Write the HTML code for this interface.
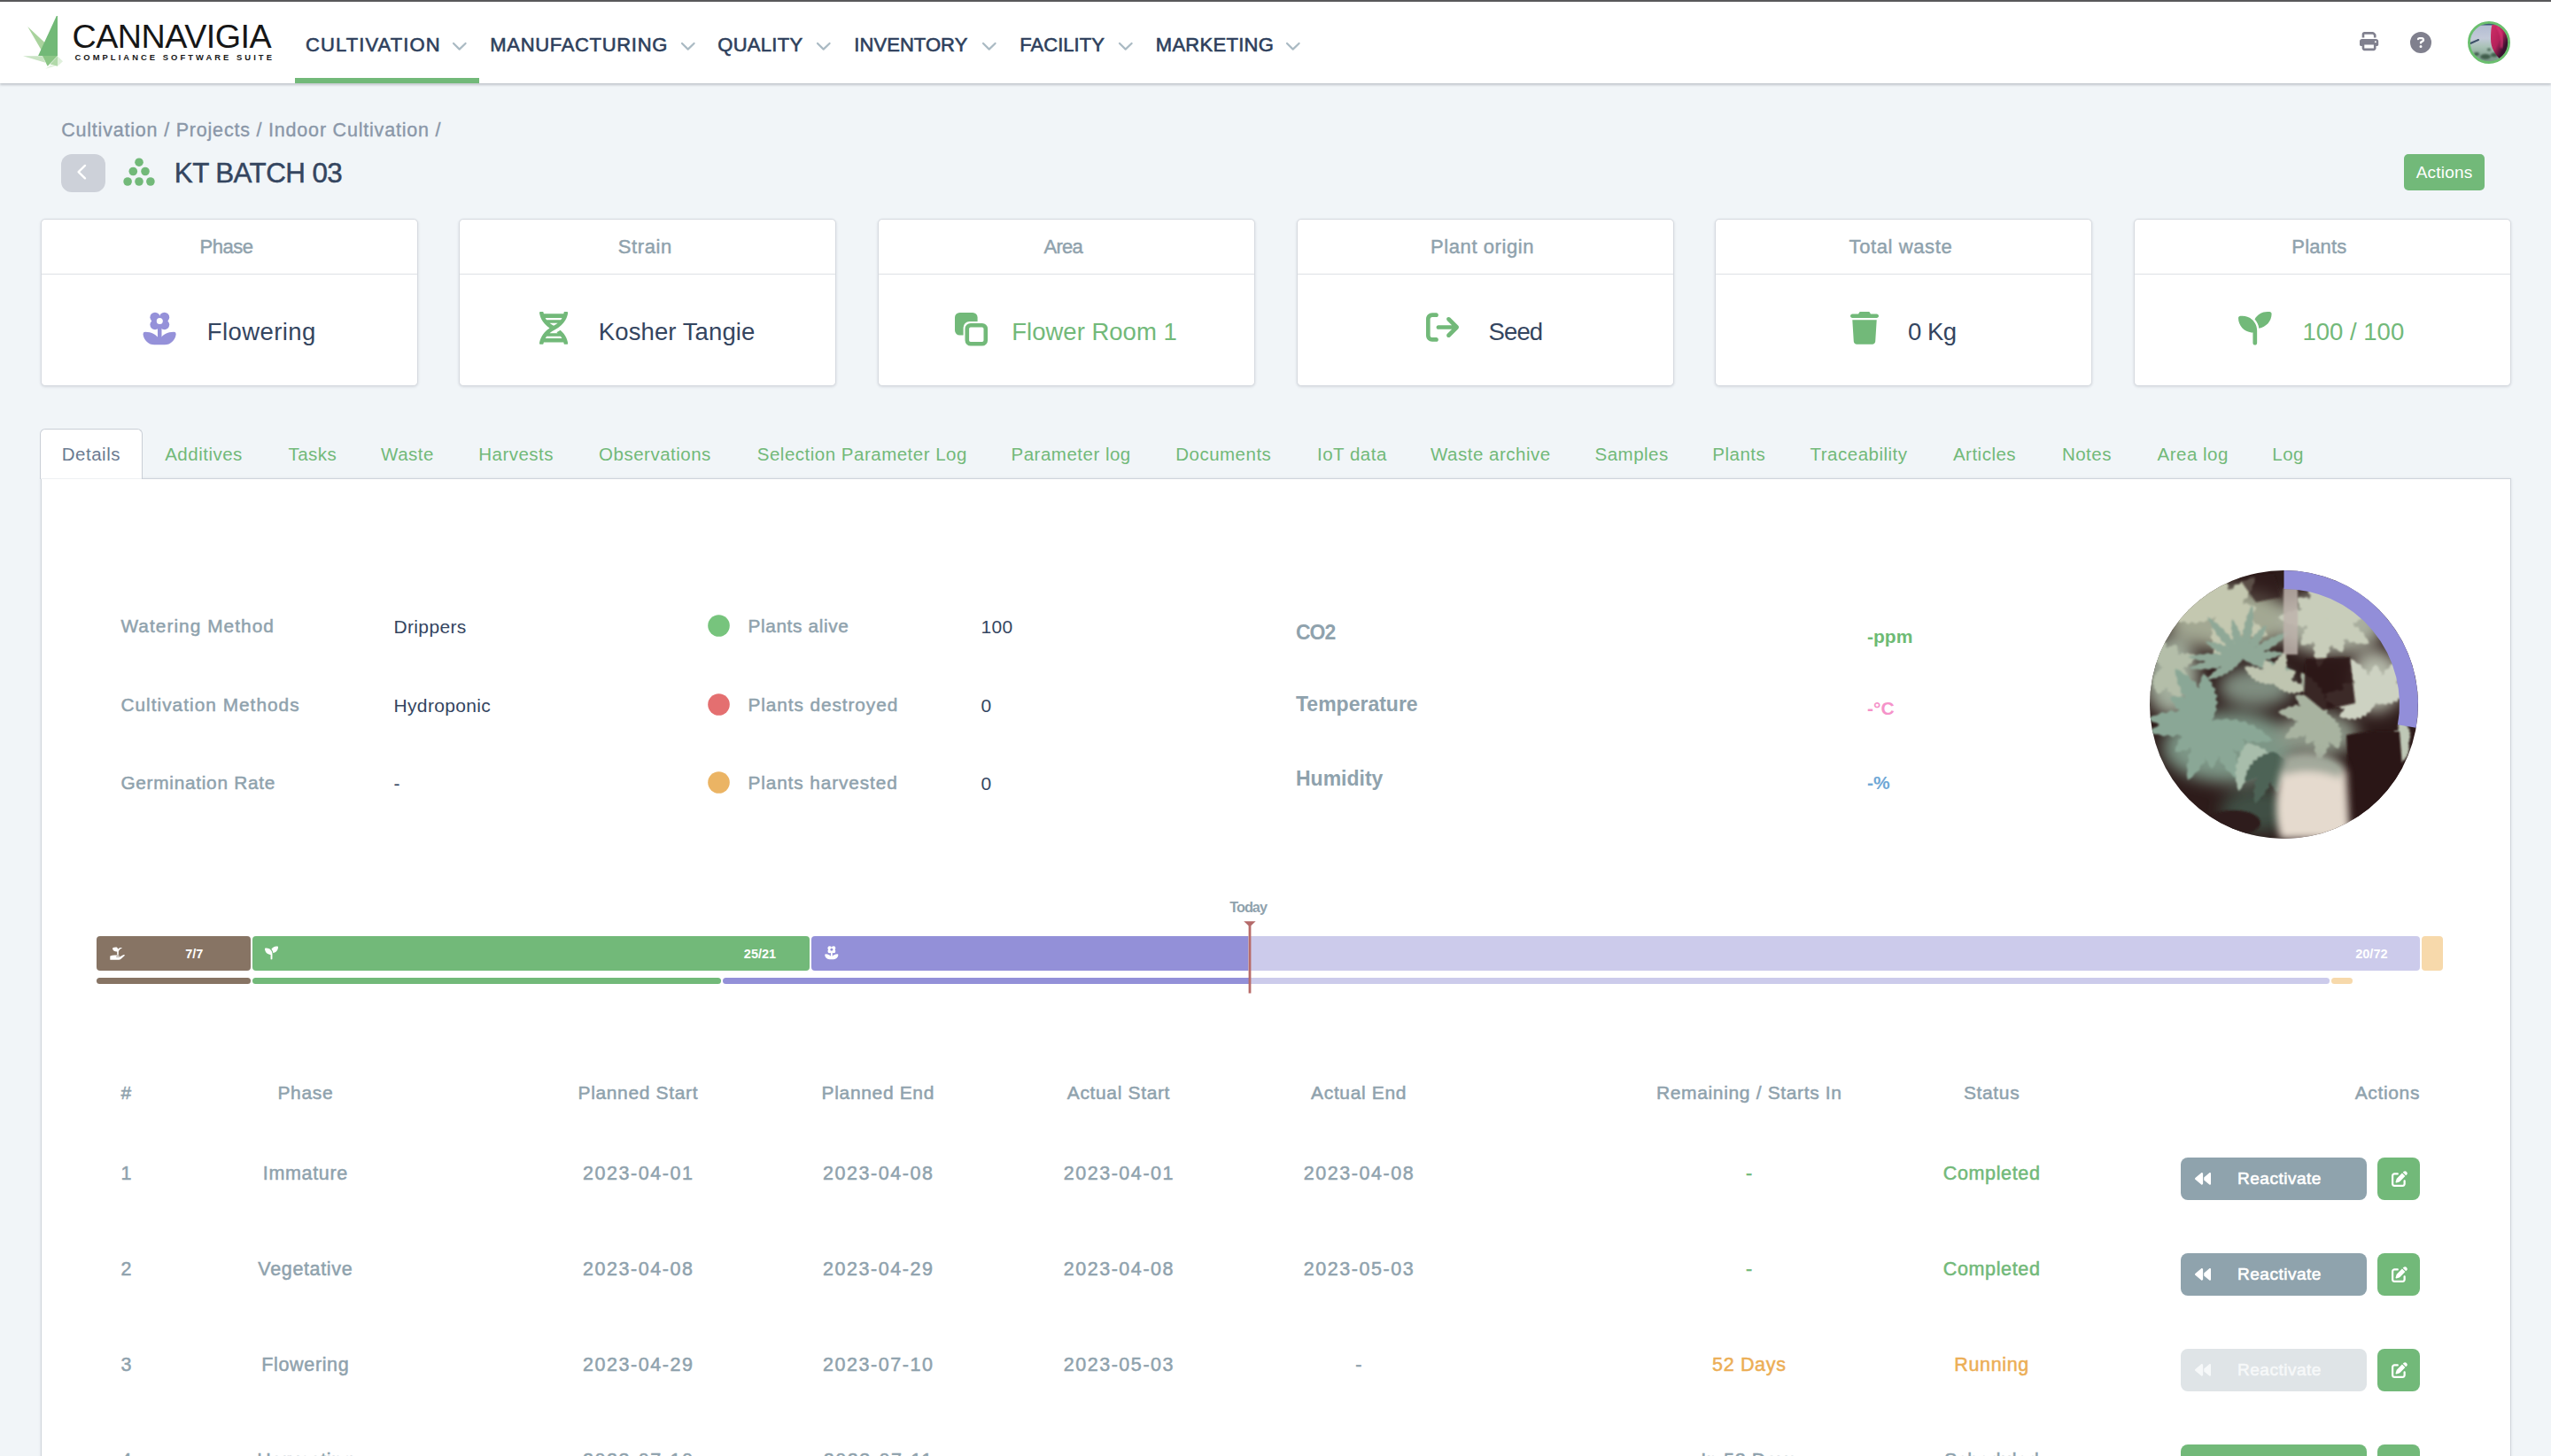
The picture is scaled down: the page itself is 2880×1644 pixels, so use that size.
<!DOCTYPE html>
<html lang="en"><head><meta charset="utf-8"><title>KT BATCH 03 | Cannavigia</title>
<style>
html,body{margin:0;padding:0;}
body{width:2880px;height:1644px;overflow:hidden;position:relative;background:#f1f5f8;font-family:"Liberation Sans", Arial, sans-serif;}
.t{position:absolute;white-space:nowrap;line-height:1;}
.r{position:absolute;}
svg.r{overflow:visible;}
@media (max-width:2000px){body{zoom:0.5;}}
</style></head><body>
<div class="r" style="left:0.00px;top:0.00px;width:2880.00px;height:94.00px;background:#fff;box-shadow:0 1.5px 2.5px rgba(40,50,62,.24);"></div>
<div class="r" style="left:0.00px;top:0.00px;width:2880.00px;height:2.00px;background:#58585a;"></div>
<svg class="r" style="left:20.00px;top:14.00px;" width="56" height="68" viewBox="0 0 56 68">
<polygon points="11.2,16.1 31.5,35 27.5,44" fill="#a9d39d"/>
<polygon points="43.8,4.1 45,4.1 45,49 23.1,49" fill="#72b977"/>
<polygon points="6,49.3 27.9,49.3 31.3,56.8" fill="#c9e3c3"/>
<polygon points="27.9,49 45,49 33.7,60.8" fill="#8cc686"/>
<polygon points="45,49.5 51,55.3 45,60.8" fill="#e0f0dc"/>
<polygon points="45,49.5 45,60.8 36.5,58.6" fill="#b1d9a9"/>
<polygon points="31.3,63.7 43.5,60.3 37,59.8" fill="#e2f1de"/>
</svg>
<div class="t" style="top:22.89px;font-size:37.7px;color:#161616;letter-spacing:-0.5px;left:81.50px;">CANNAVIGIA</div>
<div class="t" style="top:59.84px;font-size:9.4px;color:#161616;font-weight:700;letter-spacing:3.06px;left:84.50px;">COMPLIANCE SOFTWARE SUITE</div>
<div class="t" style="top:39.88px;font-size:22px;color:#2e3f5c;-webkit-text-stroke:0.6px #2e3f5c;letter-spacing:1.09px;left:345.10px;">CULTIVATION</div>
<svg class="r" style="left:511.00px;top:45.00px;" width="16" height="14" viewBox="0 0 16 14"><polyline points="1,4 7.7,10.6 14.6,4" fill="none" stroke="#aabac3" stroke-width="2.2" stroke-linecap="round" stroke-linejoin="round"/></svg>
<div class="t" style="top:39.88px;font-size:22px;color:#2e3f5c;-webkit-text-stroke:0.6px #2e3f5c;letter-spacing:0.68px;left:553.30px;">MANUFACTURING</div>
<svg class="r" style="left:768.60px;top:45.00px;" width="16" height="14" viewBox="0 0 16 14"><polyline points="1,4 7.7,10.6 14.6,4" fill="none" stroke="#aabac3" stroke-width="2.2" stroke-linecap="round" stroke-linejoin="round"/></svg>
<div class="t" style="top:39.88px;font-size:22px;color:#2e3f5c;-webkit-text-stroke:0.6px #2e3f5c;letter-spacing:0.28px;left:810.30px;">QUALITY</div>
<svg class="r" style="left:922.00px;top:45.00px;" width="16" height="14" viewBox="0 0 16 14"><polyline points="1,4 7.7,10.6 14.6,4" fill="none" stroke="#aabac3" stroke-width="2.2" stroke-linecap="round" stroke-linejoin="round"/></svg>
<div class="t" style="top:39.88px;font-size:22px;color:#2e3f5c;-webkit-text-stroke:0.6px #2e3f5c;letter-spacing:0.06px;left:964.30px;">INVENTORY</div>
<svg class="r" style="left:1108.60px;top:45.00px;" width="16" height="14" viewBox="0 0 16 14"><polyline points="1,4 7.7,10.6 14.6,4" fill="none" stroke="#aabac3" stroke-width="2.2" stroke-linecap="round" stroke-linejoin="round"/></svg>
<div class="t" style="top:39.88px;font-size:22px;color:#2e3f5c;-webkit-text-stroke:0.6px #2e3f5c;letter-spacing:0.03px;left:1151.30px;">FACILITY</div>
<svg class="r" style="left:1262.50px;top:45.00px;" width="16" height="14" viewBox="0 0 16 14"><polyline points="1,4 7.7,10.6 14.6,4" fill="none" stroke="#aabac3" stroke-width="2.2" stroke-linecap="round" stroke-linejoin="round"/></svg>
<div class="t" style="top:39.88px;font-size:22px;color:#2e3f5c;-webkit-text-stroke:0.6px #2e3f5c;letter-spacing:0.28px;left:1304.80px;">MARKETING</div>
<svg class="r" style="left:1452.00px;top:45.00px;" width="16" height="14" viewBox="0 0 16 14"><polyline points="1,4 7.7,10.6 14.6,4" fill="none" stroke="#aabac3" stroke-width="2.2" stroke-linecap="round" stroke-linejoin="round"/></svg>
<div class="r" style="left:333.00px;top:88.00px;width:208.00px;height:6.00px;background:#72b979;"></div>
<svg class="r" style="left:2664.00px;top:35.70px;" width="21.2" height="21.2" viewBox="0 0 512 512"><path d="M128 0C92.7 0 64 28.7 64 64v96h64V64H354.7L384 93.3V160h64V93.3c0-17-6.7-33.3-18.7-45.3L400 18.7C388 6.7 371.7 0 354.7 0H128zM384 352v32 64H128V384 368 352H384zm64 32h32c17.7 0 32-14.3 32-32V256c0-35.3-28.7-64-64-64H64c-35.3 0-64 28.7-64 64v96c0 17.7 14.3 32 32 32H64v64c0 35.3 28.7 64 64 64H384c35.3 0 64-28.7 64-64V384zM432 248a24 24 0 1 1 0 48 24 24 0 1 1 0-48z" fill="#80808e"/></svg>
<svg class="r" style="left:2721.00px;top:36.00px;" width="24" height="24" viewBox="0 0 512 512"><path d="M256 512A256 256 0 1 0 256 0a256 256 0 1 0 0 512zM169.8 165.3c7.9-22.3 29.1-37.3 52.8-37.3h58.3c34.9 0 63.1 28.3 63.1 63.1c0 22.6-12.1 43.5-31.7 54.8L280 264.4c-.2 13-10.9 23.6-24 23.6c-13.3 0-24-10.7-24-24V250.5c0-8.6 4.6-16.5 12.1-20.8l44.3-25.4c4.7-2.7 7.6-7.7 7.6-13.1c0-8.4-6.8-15.1-15.1-15.1H222.6c-3.4 0-6.4 2.1-7.5 5.3l-.4 1.2c-4.4 12.5-18.2 19-30.6 14.6s-19-18.2-14.6-30.6l.4-1.2zM224 352a32 32 0 1 1 64 0 32 32 0 1 1 -64 0z" fill="#80808e"/></svg>
<svg class="r" style="left:2786.00px;top:24.00px;" width="48" height="48" viewBox="0 0 48 48">
<defs><clipPath id="av"><circle cx="24" cy="24" r="22"/></clipPath>
<linearGradient id="avg" x1="0" y1="0" x2="0" y2="1"><stop offset="0" stop-color="#aeb8d0"/><stop offset=".4" stop-color="#c3cad9"/><stop offset=".6" stop-color="#a9c2b6"/><stop offset="1" stop-color="#6f8f80"/></linearGradient>
<linearGradient id="avr" x1="0" y1="0" x2="1" y2="1"><stop offset="0" stop-color="#d02f66"/><stop offset=".45" stop-color="#b3215a"/><stop offset=".7" stop-color="#3b1230"/><stop offset="1" stop-color="#2a0f26"/></linearGradient>
<filter id="avb"><feGaussianBlur stdDeviation="1.2"/></filter></defs>
<g clip-path="url(#av)">
<rect width="48" height="48" fill="url(#avg)"/>
<rect x="0" y="0" width="48" height="4.5" fill="#3d5577"/>
<g filter="url(#avb)" fill="#3f5d4c">
<ellipse cx="20" cy="40" rx="6" ry="3"/><ellipse cx="30" cy="38" rx="4" ry="2.5"/><ellipse cx="10" cy="37" rx="3" ry="2"/><ellipse cx="24" cy="32" rx="2" ry="1.5"/>
</g>
<path d="M3 25 L12 21" stroke="#3d5168" stroke-width="2" stroke-linecap="round"/>
<path d="M27.5 4 C37 4 46 12 46 24 C46 34 42 40 38 44 C31 38 26 30 26 20 C26 12 26.5 7 27.5 4Z" fill="url(#avr)"/>
<path d="M33 6 C38 12 40 20 38 30" stroke="#e0397a" stroke-width="2.5" fill="none" opacity=".8" filter="url(#avb)"/>
</g>
<circle cx="24" cy="24" r="22.6" fill="none" stroke="#6abf6e" stroke-width="2.8"/>
</svg>
<div class="t" style="top:137.00px;font-size:21.5px;color:#8a97a8;-webkit-text-stroke:0.35px #8a97a8;letter-spacing:0.8px;left:69.20px;">Cultivation / Projects / Indoor Cultivation /</div>
<div class="r" style="left:69.20px;top:174.00px;width:49.40px;height:43.00px;background:#cdd1d9;border-radius:12px;"></div>
<svg class="r" style="left:69.20px;top:174.00px;" width="50" height="43" viewBox="0 0 50 43"><polyline points="27,12.9 19.6,20.1 27,27.3" fill="none" stroke="#fff" stroke-width="2.4" stroke-linecap="round" stroke-linejoin="round"/></svg>
<svg class="r" style="left:0.00px;top:0.00px;width:1px;height:1px" width="1" height="1" viewBox="0 0 1 1"><circle cx="157" cy="183.2" r="4.8" fill="#72b979"/><circle cx="150.3" cy="193.5" r="4.8" fill="#72b979"/><circle cx="164" cy="193.5" r="4.8" fill="#72b979"/><circle cx="144.1" cy="205" r="4.8" fill="#72b979"/><circle cx="157" cy="205" r="4.8" fill="#72b979"/><circle cx="169.9" cy="205" r="4.8" fill="#72b979"/></svg>
<div class="t" style="top:179.72px;font-size:31.4px;color:#34455f;-webkit-text-stroke:0.45px #34455f;letter-spacing:-0.6px;left:196.80px;">KT BATCH 03</div>
<div class="r" style="left:2714.00px;top:174.00px;width:91.00px;height:41.00px;background:#72b979;border-radius:5px;"></div>
<div class="t" style="top:184.92px;font-size:19px;color:#fff;letter-spacing:0.2px;left:2359.50px;width:800px;text-align:center;text-indent:0.2px;">Actions</div>
<div class="r" style="left:46.00px;top:247.00px;width:426.00px;height:188.60px;background:#fff;border:1px solid #d6dae0;box-sizing:border-box;border-radius:5px;box-shadow:0 1px 3px rgba(40,50,70,.14);"></div>
<div class="r" style="left:47.00px;top:309.00px;width:424.00px;height:1.20px;background:#dde1e5;"></div>
<div class="t" style="top:267.78px;font-size:22px;color:#8fa2ad;-webkit-text-stroke:0.45px #8fa2ad;letter-spacing:-0.45px;left:-144.20px;width:800px;text-align:center;text-indent:-0.45px;">Phase</div>
<div class="r" style="left:518.30px;top:247.00px;width:426.00px;height:188.60px;background:#fff;border:1px solid #d6dae0;box-sizing:border-box;border-radius:5px;box-shadow:0 1px 3px rgba(40,50,70,.14);"></div>
<div class="r" style="left:519.30px;top:309.00px;width:424.00px;height:1.20px;background:#dde1e5;"></div>
<div class="t" style="top:267.78px;font-size:22px;color:#8fa2ad;-webkit-text-stroke:0.45px #8fa2ad;letter-spacing:0.61px;left:328.10px;width:800px;text-align:center;text-indent:0.61px;">Strain</div>
<div class="r" style="left:990.80px;top:247.00px;width:426.00px;height:188.60px;background:#fff;border:1px solid #d6dae0;box-sizing:border-box;border-radius:5px;box-shadow:0 1px 3px rgba(40,50,70,.14);"></div>
<div class="r" style="left:991.80px;top:309.00px;width:424.00px;height:1.20px;background:#dde1e5;"></div>
<div class="t" style="top:267.78px;font-size:22px;color:#8fa2ad;-webkit-text-stroke:0.45px #8fa2ad;letter-spacing:-0.75px;left:800.60px;width:800px;text-align:center;text-indent:-0.75px;">Area</div>
<div class="r" style="left:1463.50px;top:247.00px;width:426.00px;height:188.60px;background:#fff;border:1px solid #d6dae0;box-sizing:border-box;border-radius:5px;box-shadow:0 1px 3px rgba(40,50,70,.14);"></div>
<div class="r" style="left:1464.50px;top:309.00px;width:424.00px;height:1.20px;background:#dde1e5;"></div>
<div class="t" style="top:267.78px;font-size:22px;color:#8fa2ad;-webkit-text-stroke:0.45px #8fa2ad;letter-spacing:0.59px;left:1273.30px;width:800px;text-align:center;text-indent:0.59px;">Plant origin</div>
<div class="r" style="left:1935.80px;top:247.00px;width:426.00px;height:188.60px;background:#fff;border:1px solid #d6dae0;box-sizing:border-box;border-radius:5px;box-shadow:0 1px 3px rgba(40,50,70,.14);"></div>
<div class="r" style="left:1936.80px;top:309.00px;width:424.00px;height:1.20px;background:#dde1e5;"></div>
<div class="t" style="top:267.78px;font-size:22px;color:#8fa2ad;-webkit-text-stroke:0.45px #8fa2ad;letter-spacing:0.6px;left:1745.60px;width:800px;text-align:center;text-indent:0.6px;">Total waste</div>
<div class="r" style="left:2408.50px;top:247.00px;width:426.00px;height:188.60px;background:#fff;border:1px solid #d6dae0;box-sizing:border-box;border-radius:5px;box-shadow:0 1px 3px rgba(40,50,70,.14);"></div>
<div class="r" style="left:2409.50px;top:309.00px;width:424.00px;height:1.20px;background:#dde1e5;"></div>
<div class="t" style="top:267.78px;font-size:22px;color:#8fa2ad;-webkit-text-stroke:0.45px #8fa2ad;letter-spacing:0.15000000000000002px;left:2218.30px;width:800px;text-align:center;text-indent:0.15000000000000002px;">Plants</div>
<svg class="r" style="left:161.20px;top:351.50px;" width="38" height="38" viewBox="0 0 38 38"><g fill="#9591d9">
<circle cx="14" cy="6.3" r="5.6"/><circle cx="24.6" cy="6.3" r="5.6"/>
<circle cx="14" cy="14.6" r="5.6"/><circle cx="24.6" cy="14.6" r="5.6"/>
<rect x="13" y="5" width="12.6" height="12.5"/>
<rect x="17" y="16" width="4.5" height="17"/>
<path d="M0.5 25.2Q0.5 22.8 3 22.8C10 22.8 16 26 19.1 31.5C22.2 26 28.2 22.8 35.2 22.8Q37.7 22.8 37.7 25.2C37 32 31.5 37.3 25 37.3H13.2C6.7 37.3 1.2 32 0.5 25.2Z"/>
</g><circle cx="19.3" cy="10.45" r="3.5" fill="#fff"/></svg>
<svg class="r" style="left:609.00px;top:351.90px;" width="32.2" height="36.9" viewBox="0 0 448 512"><path d="M.1 494.1c-1.1 9.5 6.3 17.8 15.9 17.8l32.3.1c8.1 0 14.9-5.9 16-13.9.7-4.9 1.8-11.1 3.4-18.1H380c1.6 6.9 2.7 13.1 3.4 18.1 1.1 8 7.9 14 16 13.9l32.3-.1c9.6 0 17.1-8.3 15.9-17.8-4.6-37.9-25.6-129-118.9-207.7-17.6 12.4-37.1 24.2-58.5 35.4 6.2 4.6 11.4 9.4 17 14.2H159.7c21.3-18.1 47-35.6 78.7-51.4C410.5 199.1 442.1 65.8 447.9 17.9 449 8.4 441.6.1 432 .1L399.6 0c-8.1 0-14.9 5.9-16 13.9-.7 4.9-1.8 11.1-3.4 18.1H67.8c-1.6-7-2.7-13.1-3.4-18.1-1.1-8-7.9-14-16-13.9L16.1.1C6.5.1-1 8.4.1 17.9 5.3 60.8 31.4 171.8 160 256 31.5 340.2 5.3 451.2.1 494.1zM224 219.6c-25.1-13.7-46.4-28.4-64.3-43.6h128.5c-17.8 15.2-39.1 30-64.2 43.6zM355.1 96c-5.8 10.4-12.8 21.1-21 32H114c-8.3-10.9-15.3-21.6-21-32h262.1zM92.9 416c5.8-10.4 12.8-21.1 21-32h219.4c8.3 10.9 15.4 21.6 21.2 32H92.9z" fill="#72b979"/></svg>
<svg class="r" style="left:1077.90px;top:353.20px;" width="38" height="38" viewBox="0 0 38 38">
<rect x="0" y="0" width="25.6" height="25.6" rx="5.5" fill="#72b979"/>
<rect x="9.6" y="10" width="29" height="29" rx="7" fill="#fff"/>
<rect x="13.8" y="14.2" width="21" height="21" rx="4" fill="none" stroke="#72b979" stroke-width="4.6"/>
</svg>
<svg class="r" style="left:1610.00px;top:351.10px;" width="37" height="37" viewBox="0 0 512 512"><path d="M502.6 278.6c12.5-12.5 12.5-32.8 0-45.3l-128-128c-12.5-12.5-32.8-12.5-45.3 0s-12.5 32.8 0 45.3L402.7 224 192 224c-17.7 0-32 14.3-32 32s14.3 32 32 32l210.7 0-73.4 73.4c-12.5 12.5-12.5 32.8 0 45.3s32.8 12.5 45.3 0l128-128zM160 96c17.7 0 32-14.3 32-32s-14.3-32-32-32L96 32C43 32 0 75 0 128L0 384c0 53 43 96 96 96l64 0c17.7 0 32-14.3 32-32s-14.3-32-32-32l-64 0c-17.7 0-32-14.3-32-32l0-256c0-17.7 14.3-32 32-32l64 0z" fill="#72b979"/></svg>
<svg class="r" style="left:2089.10px;top:352.00px;" width="32" height="36.8" viewBox="0 0 448 512"><path d="M135.2 17.7L128 32H32C14.3 32 0 46.3 0 64S14.3 96 32 96H416c17.7 0 32-14.3 32-32s-14.3-32-32-32H320l-7.2-14.3C307.4 6.8 296.3 0 284.2 0H163.8c-12.1 0-23.2 6.8-28.6 17.7zM416 128H32L53.2 467c1.6 25.3 22.6 45 47.9 45H346.9c25.3 0 46.3-19.7 47.9-45L416 128z" fill="#72b979"/></svg>
<svg class="r" style="left:2527.20px;top:351.90px;" width="37.6" height="37.6" viewBox="0 0 512 512"><path d="M512 32c0 113.6-84.6 207.5-194.2 222c-7.1-53.4-30.6-101.6-65.3-139.3C290.8 46.3 364 0 448 0h32c17.7 0 32 14.3 32 32zM0 96C0 78.3 14.3 64 32 64H64c123.7 0 224 100.3 224 224v32V480c0 17.7-14.3 32-32 32s-32-14.3-32-32V320C100.3 320 0 219.7 0 96z" fill="#72b979"/></svg>
<div class="t" style="top:361.02px;font-size:27.5px;color:#34455f;letter-spacing:0.4px;left:233.80px;">Flowering</div>
<div class="t" style="top:361.02px;font-size:27.5px;color:#34455f;letter-spacing:0.1px;left:675.80px;">Kosher Tangie</div>
<div class="t" style="top:361.02px;font-size:27.5px;color:#72b979;left:1142.30px;">Flower Room 1</div>
<div class="t" style="top:361.02px;font-size:27.5px;color:#34455f;letter-spacing:-0.9px;left:1680.60px;">Seed</div>
<div class="t" style="top:361.02px;font-size:27.5px;color:#34455f;letter-spacing:-0.5px;left:2154.00px;">0 Kg</div>
<div class="t" style="top:361.02px;font-size:27.5px;color:#72b979;left:2599.50px;">100 / 100</div>
<div class="r" style="left:45.50px;top:540.00px;width:2789.00px;height:1200.00px;background:#fff;border:1px solid #cfd4db;box-sizing:border-box;box-shadow:0 0 3px rgba(40,50,70,.10);"></div>
<div class="r" style="left:45.40px;top:484.40px;width:115.20px;height:57.00px;background:#fff;border:1px solid #c9ced6;border-bottom:none;box-sizing:border-box;border-radius:6px 6px 0 0;"></div>
<div class="r" style="left:46.40px;top:540.00px;width:113.20px;height:1.00px;background:#eef0f3;"></div>
<div class="t" style="top:502.95px;font-size:20.5px;color:#6b7b91;letter-spacing:0.5px;left:69.80px;">Details</div>
<div class="t" style="top:502.95px;font-size:20.5px;color:#72b979;letter-spacing:0.5px;left:186.20px;">Additives</div>
<div class="t" style="top:502.95px;font-size:20.5px;color:#72b979;letter-spacing:0.5px;left:325.40px;">Tasks</div>
<div class="t" style="top:502.95px;font-size:20.5px;color:#72b979;letter-spacing:0.5px;left:430.10px;">Waste</div>
<div class="t" style="top:502.95px;font-size:20.5px;color:#72b979;letter-spacing:0.5px;left:540.20px;">Harvests</div>
<div class="t" style="top:502.95px;font-size:20.5px;color:#72b979;letter-spacing:0.5px;left:676.10px;">Observations</div>
<div class="t" style="top:502.95px;font-size:20.5px;color:#72b979;letter-spacing:0.5px;left:854.80px;">Selection Parameter Log</div>
<div class="t" style="top:502.95px;font-size:20.5px;color:#72b979;letter-spacing:0.5px;left:1141.50px;">Parameter log</div>
<div class="t" style="top:502.95px;font-size:20.5px;color:#72b979;letter-spacing:0.5px;left:1327.20px;">Documents</div>
<div class="t" style="top:502.95px;font-size:20.5px;color:#72b979;letter-spacing:0.5px;left:1487.00px;">IoT data</div>
<div class="t" style="top:502.95px;font-size:20.5px;color:#72b979;letter-spacing:0.5px;left:1615.00px;">Waste archive</div>
<div class="t" style="top:502.95px;font-size:20.5px;color:#72b979;letter-spacing:0.5px;left:1800.50px;">Samples</div>
<div class="t" style="top:502.95px;font-size:20.5px;color:#72b979;letter-spacing:0.5px;left:1933.30px;">Plants</div>
<div class="t" style="top:502.95px;font-size:20.5px;color:#72b979;letter-spacing:0.5px;left:2043.50px;">Traceability</div>
<div class="t" style="top:502.95px;font-size:20.5px;color:#72b979;letter-spacing:0.5px;left:2204.90px;">Articles</div>
<div class="t" style="top:502.95px;font-size:20.5px;color:#72b979;letter-spacing:0.5px;left:2327.90px;">Notes</div>
<div class="t" style="top:502.95px;font-size:20.5px;color:#72b979;letter-spacing:0.5px;left:2435.50px;">Area log</div>
<div class="t" style="top:502.95px;font-size:20.5px;color:#72b979;letter-spacing:0.5px;left:2565.30px;">Log</div>
<div class="t" style="top:697.39px;font-size:20.8px;color:#8fa2ad;-webkit-text-stroke:0.5px #8fa2ad;letter-spacing:1.06px;left:136.40px;">Watering Method</div>
<div class="t" style="top:697.22px;font-size:21px;color:#34455f;letter-spacing:0.35px;left:444.50px;">Drippers</div>
<div class="t" style="top:785.99px;font-size:20.8px;color:#8fa2ad;-webkit-text-stroke:0.5px #8fa2ad;letter-spacing:1.03px;left:136.40px;">Cultivation Methods</div>
<div class="t" style="top:785.82px;font-size:21px;color:#34455f;letter-spacing:0.35px;left:444.50px;">Hydroponic</div>
<div class="t" style="top:874.39px;font-size:20.8px;color:#8fa2ad;-webkit-text-stroke:0.5px #8fa2ad;letter-spacing:0.73px;left:136.40px;">Germination Rate</div>
<div class="t" style="top:874.22px;font-size:21px;color:#34455f;letter-spacing:0.35px;left:444.50px;">-</div>
<svg class="r" style="left:798.50px;top:694.20px;" width="25" height="25" viewBox="0 0 25 25"><circle cx="12.5" cy="12.5" r="12.3" fill="#77c47d"/></svg>
<div class="t" style="top:697.39px;font-size:20.8px;color:#8fa2ad;-webkit-text-stroke:0.5px #8fa2ad;letter-spacing:0.65px;left:844.40px;">Plants alive</div>
<div class="t" style="top:697.22px;font-size:21px;color:#34455f;letter-spacing:0.3px;left:1107.50px;">100</div>
<svg class="r" style="left:798.50px;top:782.80px;" width="25" height="25" viewBox="0 0 25 25"><circle cx="12.5" cy="12.5" r="12.3" fill="#e46f70"/></svg>
<div class="t" style="top:785.99px;font-size:20.8px;color:#8fa2ad;-webkit-text-stroke:0.5px #8fa2ad;letter-spacing:0.93px;left:844.40px;">Plants destroyed</div>
<div class="t" style="top:785.82px;font-size:21px;color:#34455f;letter-spacing:0.3px;left:1107.50px;">0</div>
<svg class="r" style="left:798.50px;top:871.20px;" width="25" height="25" viewBox="0 0 25 25"><circle cx="12.5" cy="12.5" r="12.3" fill="#ebb464"/></svg>
<div class="t" style="top:874.39px;font-size:20.8px;color:#8fa2ad;-webkit-text-stroke:0.5px #8fa2ad;letter-spacing:0.9px;left:844.40px;">Plants harvested</div>
<div class="t" style="top:874.22px;font-size:21px;color:#34455f;letter-spacing:0.3px;left:1107.50px;">0</div>
<div class="t" style="top:703.13px;font-size:23px;color:#8fa2ad;font-weight:700;letter-spacing:-1px;left:1463.00px;">CO2</div>
<div class="t" style="top:708.42px;font-size:21px;color:#6dbb74;font-weight:700;left:2108.00px;">-ppm</div>
<div class="t" style="top:783.53px;font-size:23px;color:#8fa2ad;font-weight:700;left:1463.00px;">Temperature</div>
<div class="t" style="top:788.82px;font-size:21px;color:#f592c9;font-weight:700;left:2108.00px;">-°C</div>
<div class="t" style="top:868.13px;font-size:23px;color:#8fa2ad;font-weight:700;left:1463.00px;">Humidity</div>
<div class="t" style="top:872.82px;font-size:21px;color:#6fa8d6;font-weight:700;left:2108.00px;">-%</div>
<svg class="r" style="left:2427.00px;top:643.70px;" width="303" height="303" viewBox="0 0 303 303">
<defs>
<clipPath id="pc"><circle cx="151.5" cy="151.5" r="151.5"/></clipPath>
<filter id="bl" x="-30%" y="-30%" width="160%" height="160%"><feGaussianBlur stdDeviation="9"/></filter>
<filter id="bl2" x="-10%" y="-10%" width="120%" height="120%"><feGaussianBlur stdDeviation="1.2"/></filter>
<filter id="bl3" x="-20%" y="-20%" width="140%" height="140%"><feGaussianBlur stdDeviation="4"/></filter>
</defs>
<g clip-path="url(#pc)"><rect width="303" height="303" fill="#2d1b1a"/><g filter="url(#bl)"><ellipse cx="90" cy="55" rx="70" ry="35" fill="#a3a893"/><ellipse cx="205" cy="60" rx="60" ry="35" fill="#a9ae9e"/><ellipse cx="255" cy="125" rx="30" ry="35" fill="#b3b8a8"/><ellipse cx="25" cy="120" rx="30" ry="45" fill="#a2ad9c"/><ellipse cx="90" cy="200" rx="75" ry="40" fill="#7d9686"/><ellipse cx="190" cy="185" rx="45" ry="25" fill="#8d9788"/><ellipse cx="125" cy="270" rx="45" ry="25" fill="#3f5044"/><ellipse cx="120" cy="132" rx="42" ry="22" fill="#7f8d80"/></g><g filter="url(#bl2)"><polygon points="75.0,52.0 70.9,48.2 66.6,46.9 62.5,43.0 58.0,43.5 53.9,39.5 49.3,41.4 45.1,37.8 40.4,40.6 36.2,38.0 31.5,41.2 27.2,39.9 22.4,43.0 17.9,43.5 13.2,46.6 13.2,46.6 17.3,50.4 21.7,51.7 25.8,55.6 30.3,55.1 34.4,59.1 39.0,57.2 43.1,60.8 47.8,58.0 52.0,60.6 56.7,57.4 61.1,58.7 65.8,55.6 70.3,55.1 75.0,52.0" fill="#c4c8b0" opacity="1"/><polygon points="75.0,52.0 74.3,47.3 72.1,44.6 71.4,39.8 68.1,38.7 67.5,33.8 63.5,33.7 62.6,29.2 58.0,29.9 56.6,26.2 51.8,27.2 49.6,24.6 44.9,25.6 41.6,24.4 36.9,25.3 36.9,25.3 37.6,30.1 39.9,32.7 40.6,37.5 43.8,38.7 44.4,43.5 48.5,43.6 49.4,48.1 53.9,47.4 55.3,51.1 60.1,50.1 62.3,52.7 67.1,51.8 70.3,52.9 75.0,52.0" fill="#c4c8b0" opacity="1"/><polygon points="75.0,52.0 76.3,46.5 75.2,42.1 76.5,36.6 73.8,33.0 75.2,27.5 71.3,24.4 72.3,19.0 67.6,16.4 67.7,11.4 62.6,8.9 61.6,4.5 56.5,2.0 53.8,-1.6 48.8,-4.2 48.8,-4.2 47.5,1.3 48.6,5.7 47.3,11.2 50.0,14.8 48.6,20.3 52.5,23.4 51.5,28.8 56.2,31.4 56.1,36.4 61.2,38.9 62.2,43.3 67.3,45.8 70.0,49.4 75.0,52.0" fill="#c4c8b0" opacity="1"/><polygon points="75.0,52.0 79.0,49.3 80.4,46.2 84.5,43.6 84.2,40.1 88.3,37.5 86.7,33.8 90.4,31.1 87.8,27.3 90.6,24.4 87.6,20.5 89.1,17.4 86.2,13.5 85.9,10.1 83.1,6.2 83.1,6.2 79.1,8.9 77.6,12.0 73.6,14.7 73.9,18.1 69.8,20.7 71.4,24.4 67.7,27.1 70.3,30.9 67.5,33.8 70.4,37.7 69.0,40.8 71.9,44.7 72.2,48.1 75.0,52.0" fill="#c4c8b0" opacity="1"/><polygon points="75.0,52.0 80.6,51.3 84.3,48.8 90.0,48.2 92.5,44.4 98.1,43.8 99.7,39.1 105.1,38.2 105.9,32.8 110.7,31.3 111.3,25.6 115.0,23.1 115.7,17.5 118.2,13.7 118.8,8.2 118.8,8.2 113.3,8.8 109.5,11.3 103.9,12.0 101.4,15.7 95.7,16.3 94.2,21.1 88.8,21.9 87.9,27.3 83.2,28.9 82.6,34.5 78.8,37.0 78.2,42.7 75.7,46.4 75.0,52.0" fill="#c4c8b0" opacity="1"/><polygon points="75.0,52.0 79.0,54.7 82.4,54.9 86.4,57.6 89.4,56.1 93.4,58.9 96.2,56.0 100.1,58.4 102.7,54.6 106.4,56.1 108.9,51.9 112.4,52.1 114.9,48.0 118.0,46.4 120.5,42.3 120.5,42.3 116.5,39.6 113.1,39.5 109.1,36.7 106.0,38.3 102.0,35.4 99.3,38.3 95.4,35.9 92.8,39.7 89.0,38.2 86.5,42.4 83.1,42.2 80.6,46.4 77.5,47.9 75.0,52.0" fill="#c4c8b0" opacity="1"/><polygon points="75.0,52.0 78.0,56.8 81.8,59.1 84.8,63.9 89.3,64.6 92.2,69.5 97.1,68.9 100.2,73.4 105.4,71.9 108.8,75.6 114.2,73.7 118.1,76.1 123.4,74.3 127.9,74.9 133.3,73.2 133.3,73.2 130.3,68.4 126.4,66.1 123.5,61.3 119.0,60.6 116.1,55.7 111.1,56.3 108.1,51.8 102.8,53.3 99.4,49.6 94.0,51.5 90.2,49.1 84.8,50.9 80.3,50.3 75.0,52.0" fill="#c4c8b0" opacity="1"/><polygon points="75.0,52.0 74.5,56.8 75.9,59.9 75.4,64.7 78.2,66.7 77.6,71.5 81.4,72.6 81.1,77.2 85.7,77.7 86.1,81.7 91.0,81.9 92.4,85.1 97.3,85.3 100.1,87.3 104.9,87.6 104.9,87.6 105.4,82.9 104.0,79.7 104.5,74.9 101.7,73.0 102.3,68.1 98.5,67.0 98.8,62.4 94.2,61.9 93.8,57.9 88.9,57.7 87.4,54.6 82.6,54.3 79.8,52.3 75.0,52.0" fill="#c4c8b0" opacity="1"/><polygon points="75.0,52.0 72.4,57.0 72.2,61.5 69.5,66.5 71.2,70.7 68.4,75.6 71.4,79.6 69.1,84.5 72.9,88.3 71.5,93.1 75.8,96.8 75.7,101.3 79.9,105.1 81.6,109.3 85.8,113.1 85.8,113.1 88.4,108.1 88.5,103.6 91.2,98.6 89.6,94.4 92.3,89.4 89.4,85.4 91.7,80.5 87.8,76.7 89.3,72.0 85.0,68.2 85.1,63.7 80.8,60.0 79.2,55.8 75.0,52.0" fill="#c4c8b0" opacity="1"/><polygon points="15.0,110.0 17.4,106.7 17.7,103.7 20.1,100.4 18.9,97.7 21.4,94.4 19.0,91.9 21.2,88.6 18.0,86.3 19.4,83.1 15.9,80.8 16.1,77.9 12.7,75.6 11.4,72.9 8.1,70.6 8.1,70.6 5.7,73.9 5.4,76.9 2.9,80.2 4.2,82.9 1.7,86.2 4.1,88.7 1.9,92.0 5.1,94.3 3.7,97.5 7.2,99.8 6.9,102.7 10.4,105.0 11.6,107.7 15.0,110.0" fill="#b4bea9" opacity="1"/><polygon points="15.0,110.0 18.6,109.6 20.4,108.1 24.0,107.8 24.4,105.5 28.1,105.2 27.6,102.4 31.0,101.9 29.7,98.7 32.4,97.8 30.9,94.4 32.6,92.9 31.1,89.6 31.5,87.3 30.0,84.0 30.0,84.0 26.4,84.4 24.6,85.9 21.0,86.2 20.6,88.5 16.9,88.8 17.4,91.6 14.0,92.1 15.3,95.3 12.6,96.2 14.1,99.6 12.4,101.1 13.9,104.4 13.5,106.7 15.0,110.0" fill="#b4bea9" opacity="1"/><polygon points="15.0,110.0 18.7,111.8 21.6,111.5 25.3,113.4 27.8,111.7 31.5,113.6 33.5,110.8 37.1,112.3 38.9,108.8 42.2,109.7 43.9,105.8 46.8,105.5 48.5,101.8 50.9,100.1 52.6,96.3 52.6,96.3 48.9,94.5 46.0,94.8 42.2,93.0 39.8,94.7 36.1,92.8 34.1,95.5 30.5,94.0 28.7,97.5 25.3,96.7 23.7,100.5 20.8,100.8 19.1,104.6 16.7,106.3 15.0,110.0" fill="#b4bea9" opacity="1"/><polygon points="15.0,110.0 16.0,113.5 17.8,114.9 18.7,118.5 21.0,118.5 22.0,122.1 24.7,121.1 25.8,124.3 28.7,122.5 30.0,125.0 33.1,122.9 34.9,124.4 37.9,122.3 40.2,122.3 43.2,120.3 43.2,120.3 42.2,116.8 40.4,115.3 39.4,111.8 37.2,111.8 36.2,108.1 33.5,109.2 32.4,105.9 29.5,107.7 28.1,105.2 25.1,107.4 23.3,105.9 20.3,108.0 18.0,108.0 15.0,110.0" fill="#b4bea9" opacity="1"/><polygon points="15.0,110.0 13.9,113.9 14.6,116.8 13.5,120.8 15.6,122.9 14.4,126.9 17.4,128.4 16.5,132.2 20.3,133.3 20.1,136.8 24.1,137.7 24.9,140.6 28.9,141.5 31.0,143.6 35.0,144.6 35.0,144.6 36.1,140.7 35.4,137.8 36.5,133.9 34.4,131.8 35.6,127.8 32.6,126.3 33.5,122.4 29.7,121.3 29.9,117.9 25.9,116.9 25.1,114.1 21.1,113.1 19.0,111.0 15.0,110.0" fill="#b4bea9" opacity="1"/><polygon points="15.0,110.0 11.7,111.6 10.6,113.6 7.3,115.2 7.7,117.4 4.3,119.0 5.8,121.4 2.8,123.1 5.1,125.7 2.8,127.4 5.4,130.1 4.3,132.1 6.9,134.7 7.3,136.9 9.8,139.5 9.8,139.5 13.1,137.9 14.2,136.0 17.5,134.4 17.1,132.1 20.5,130.6 19.0,128.1 22.0,126.5 19.7,123.9 22.0,122.1 19.4,119.5 20.5,117.5 17.9,114.9 17.5,112.6 15.0,110.0" fill="#b4bea9" opacity="1"/><polygon points="200.0,55.0 196.2,51.6 192.3,50.6 188.5,47.1 184.5,47.8 180.7,44.3 176.7,46.3 172.9,43.1 168.9,46.0 165.0,43.7 161.0,47.0 157.1,46.0 153.0,49.2 149.1,49.9 145.0,53.1 145.0,53.1 148.8,56.5 152.7,57.5 156.6,61.0 160.5,60.3 164.3,63.8 168.3,61.8 172.1,65.0 176.2,62.1 180.0,64.4 184.1,61.1 188.0,62.1 192.0,58.9 196.0,58.1 200.0,55.0" fill="#c8cdba" opacity="1"/><polygon points="200.0,55.0 199.5,50.6 197.5,48.2 197.1,43.8 194.1,42.8 193.7,38.3 190.1,38.4 189.4,34.2 185.2,35.0 184.0,31.6 179.7,32.7 177.7,30.3 173.4,31.3 170.5,30.3 166.2,31.3 166.2,31.3 166.7,35.7 168.7,38.1 169.2,42.5 172.1,43.5 172.5,48.0 176.2,48.0 176.8,52.1 181.0,51.3 182.2,54.8 186.5,53.7 188.5,56.1 192.8,55.0 195.7,56.0 200.0,55.0" fill="#c8cdba" opacity="1"/><polygon points="200.0,55.0 201.7,50.2 201.2,46.2 203.0,41.4 200.9,38.0 202.7,33.1 199.4,30.1 200.9,25.4 196.7,22.8 197.4,18.3 192.8,15.8 192.3,11.8 187.8,9.3 185.6,5.9 181.2,3.3 181.2,3.3 179.4,8.1 180.0,12.1 178.2,17.0 180.3,20.4 178.5,25.2 181.8,28.2 180.3,32.9 184.5,35.6 183.8,40.0 188.4,42.5 188.9,46.5 193.4,49.0 195.6,52.4 200.0,55.0" fill="#c8cdba" opacity="1"/><polygon points="200.0,55.0 203.9,53.0 205.5,50.4 209.5,48.4 209.5,45.3 213.5,43.4 212.2,40.0 215.9,37.9 213.7,34.3 216.6,32.0 214.0,28.3 215.6,25.6 213.2,21.9 213.1,18.9 210.7,15.2 210.7,15.2 206.7,17.2 205.2,19.8 201.2,21.8 201.2,24.8 197.2,26.8 198.5,30.2 194.8,32.3 196.9,35.9 194.1,38.2 196.6,41.9 195.1,44.5 197.5,48.2 197.6,51.3 200.0,55.0" fill="#c8cdba" opacity="1"/><polygon points="200.0,55.0 205.1,55.0 208.7,53.1 213.8,53.2 216.3,50.0 221.5,50.1 223.1,45.9 228.1,45.7 229.2,40.9 233.5,40.0 234.4,34.8 237.9,33.0 238.8,27.9 241.2,24.7 242.1,19.6 242.1,19.6 237.0,19.7 233.5,21.5 228.3,21.5 225.8,24.7 220.6,24.6 219.0,28.7 214.0,29.0 213.0,33.8 208.6,34.7 207.8,39.8 204.2,41.7 203.4,46.8 200.9,50.0 200.0,55.0" fill="#c8cdba" opacity="1"/><polygon points="200.0,55.0 203.2,58.0 206.2,58.6 209.5,61.7 212.3,60.6 215.6,63.7 218.3,61.3 221.5,64.1 224.2,60.8 227.3,62.7 229.9,59.0 232.9,59.6 235.6,56.0 238.4,54.9 241.1,51.4 241.1,51.4 237.9,48.4 234.9,47.8 231.6,44.7 228.8,45.8 225.5,42.7 222.8,45.1 219.6,42.3 216.9,45.6 213.8,43.7 211.2,47.4 208.2,46.8 205.5,50.4 202.6,51.5 200.0,55.0" fill="#c8cdba" opacity="1"/><polygon points="200.0,55.0 201.8,59.8 204.7,62.5 206.5,67.4 210.3,68.6 212.0,73.5 216.5,73.6 218.4,78.2 223.3,77.6 225.6,81.4 230.7,80.4 233.7,83.1 238.8,82.2 242.6,83.4 247.6,82.5 247.6,82.5 245.9,77.7 242.9,75.0 241.2,70.1 237.3,68.9 235.6,64.0 231.2,63.9 229.3,59.3 224.4,59.9 222.0,56.1 216.9,57.1 214.0,54.4 208.9,55.3 205.0,54.1 200.0,55.0" fill="#c8cdba" opacity="1"/><polygon points="200.0,55.0 198.3,59.1 198.7,62.1 197.0,66.2 199.0,68.5 197.1,72.6 200.3,74.4 198.8,78.3 202.8,79.7 202.1,83.3 206.4,84.5 206.9,87.5 211.2,88.8 213.2,91.1 217.4,92.4 217.4,92.4 219.2,88.3 218.7,85.3 220.5,81.2 218.5,78.9 220.3,74.8 217.1,73.0 218.6,69.1 214.6,67.7 215.3,64.1 211.0,62.9 210.5,59.8 206.2,58.6 204.2,56.3 200.0,55.0" fill="#c8cdba" opacity="1"/><polygon points="200.0,55.0 196.1,58.3 194.6,62.0 190.6,65.3 190.7,69.3 186.7,72.6 188.1,76.8 184.5,80.2 186.8,84.6 184.0,88.1 186.6,92.5 185.1,96.3 187.7,100.7 187.9,104.7 190.4,109.2 190.4,109.2 194.4,105.9 195.9,102.1 199.9,98.9 199.7,94.8 203.8,91.6 202.3,87.3 206.0,84.0 203.7,79.6 206.5,76.1 203.8,71.6 205.3,67.9 202.7,63.5 202.6,59.4 200.0,55.0" fill="#c8cdba" opacity="1"/><polygon points="200.0,55.0 195.6,54.8 192.9,56.2 188.5,56.0 187.0,58.6 182.5,58.3 181.9,61.9 177.7,61.9 177.7,66.1 174.1,66.6 174.5,71.1 171.8,72.6 172.1,77.1 170.6,79.8 170.8,84.2 170.8,84.2 175.2,84.4 177.9,82.9 182.4,83.2 183.9,80.5 188.4,80.9 188.9,77.3 193.1,77.3 193.1,73.1 196.7,72.5 196.4,68.0 199.0,66.5 198.8,62.1 200.2,59.4 200.0,55.0" fill="#c8cdba" opacity="1"/><polygon points="255.0,150.0 251.2,146.4 247.1,145.2 243.3,141.5 239.1,141.9 235.2,138.2 230.9,140.0 227.1,136.6 222.7,139.2 218.7,136.7 214.3,139.8 210.3,138.6 205.8,141.5 201.6,142.0 197.2,144.9 197.2,144.9 201.1,148.6 205.1,149.8 208.9,153.5 213.2,153.0 217.0,156.8 221.3,155.0 225.2,158.4 229.5,155.7 233.5,158.2 237.9,155.2 242.0,156.4 246.4,153.4 250.6,152.9 255.0,150.0" fill="#cdd2c2" opacity="1"/><polygon points="255.0,150.0 254.0,145.6 251.7,143.3 250.7,138.9 247.6,138.0 246.6,133.5 242.8,133.8 241.6,129.7 237.4,130.7 235.8,127.3 231.4,128.7 229.1,126.4 224.8,127.8 221.7,127.0 217.3,128.2 217.3,128.3 218.4,132.6 220.6,134.9 221.7,139.4 224.8,140.2 225.8,144.7 229.5,144.4 230.7,148.6 234.9,147.5 236.5,150.9 240.9,149.5 243.2,151.8 247.5,150.5 250.7,151.3 255.0,150.0" fill="#cdd2c2" opacity="1"/><polygon points="255.0,150.0 255.8,144.8 254.4,140.8 255.3,135.5 252.5,132.3 253.3,127.0 249.4,124.5 250.0,119.4 245.3,117.3 245.1,112.7 240.0,110.8 238.7,106.8 233.7,104.9 230.9,101.7 226.0,99.8 226.0,99.8 225.2,105.0 226.6,109.0 225.7,114.3 228.5,117.4 227.7,122.7 231.6,125.3 231.0,130.3 235.7,132.4 235.9,137.1 241.0,139.0 242.3,143.0 247.3,144.9 250.1,148.1 255.0,150.0" fill="#cdd2c2" opacity="1"/><polygon points="255.0,150.0 258.3,146.9 259.1,143.8 262.5,140.7 261.6,137.6 265.1,134.5 262.9,131.4 265.9,128.2 262.9,125.1 265.1,122.0 261.6,118.9 262.5,115.8 259.1,112.7 258.3,109.6 255.0,106.5 255.0,106.5 251.7,109.6 250.9,112.7 247.5,115.8 248.4,118.9 244.9,122.0 247.1,125.1 244.1,128.2 247.1,131.4 244.9,134.5 248.4,137.6 247.5,140.7 250.9,143.8 251.7,146.9 255.0,150.0" fill="#cdd2c2" opacity="1"/><polygon points="255.0,150.0 259.9,148.1 262.7,144.9 267.7,143.0 269.0,139.0 274.1,137.1 274.3,132.4 279.0,130.3 278.4,125.3 282.3,122.7 281.5,117.4 284.3,114.3 283.4,109.0 284.8,105.0 284.0,99.8 284.0,99.8 279.1,101.7 276.3,104.9 271.3,106.8 270.0,110.8 264.9,112.7 264.7,117.3 260.0,119.4 260.6,124.5 256.7,127.0 257.5,132.3 254.7,135.5 255.6,140.8 254.2,144.8 255.0,150.0" fill="#cdd2c2" opacity="1"/><polygon points="255.0,150.0 259.3,151.3 262.5,150.5 266.8,151.8 269.1,149.5 273.5,150.9 275.1,147.5 279.3,148.6 280.5,144.4 284.2,144.7 285.2,140.2 288.3,139.4 289.4,134.9 291.6,132.6 292.7,128.3 292.7,128.2 288.3,127.0 285.2,127.8 280.9,126.4 278.6,128.7 274.2,127.3 272.6,130.7 268.4,129.7 267.2,133.8 263.4,133.5 262.4,138.0 259.3,138.9 258.3,143.3 256.0,145.6 255.0,150.0" fill="#cdd2c2" opacity="1"/><polygon points="255.0,150.0 251.5,146.0 247.6,144.5 244.1,140.5 239.8,140.6 236.3,136.5 231.9,137.9 228.3,134.2 223.7,136.5 220.0,133.6 215.4,136.3 211.4,134.7 206.8,137.3 202.5,137.4 197.9,139.9 197.9,139.9 201.4,143.9 205.3,145.4 208.8,149.5 213.0,149.3 216.5,153.4 221.0,152.0 224.5,155.7 229.1,153.5 232.9,156.3 237.5,153.7 241.5,155.2 246.1,152.6 250.3,152.5 255.0,150.0" fill="#cdd2c2" opacity="1"/><polygon points="255.0,150.0 251.0,148.0 247.7,148.2 243.7,146.2 241.1,148.0 237.0,145.9 234.8,148.9 230.8,147.2 228.9,151.1 225.3,150.1 223.5,154.4 220.3,154.7 218.5,158.9 215.9,160.7 214.1,164.9 214.1,164.9 218.2,166.9 221.4,166.6 225.4,168.7 228.1,166.9 232.2,169.0 234.3,165.9 238.3,167.7 240.2,163.8 243.8,164.8 245.6,160.5 248.8,160.2 250.6,156.0 253.2,154.1 255.0,150.0" fill="#cdd2c2" opacity="1"/><polygon points="105.0,100.0 100.6,98.1 96.2,97.5 91.9,95.6 87.4,95.9 83.1,93.9 78.6,94.9 74.2,93.2 69.7,94.6 65.4,93.3 60.9,95.0 56.5,94.4 52.0,96.0 47.5,96.3 43.0,97.8 43.0,97.8 47.4,99.7 51.8,100.3 56.2,102.2 60.6,101.9 65.0,103.9 69.4,102.9 73.8,104.7 78.3,103.2 82.7,104.5 87.2,102.9 91.6,103.5 96.1,101.9 100.5,101.6 105.0,100.0" fill="#8fa897" opacity="1"/><polygon points="105.0,100.0 102.7,97.0 99.9,95.2 97.6,92.2 94.4,91.2 92.2,88.2 88.7,87.8 86.4,85.0 82.7,85.0 80.1,82.6 76.4,82.8 73.6,81.0 69.8,81.2 66.6,80.2 62.9,80.3 62.9,80.3 65.1,83.3 68.0,85.1 70.2,88.1 73.4,89.1 75.7,92.2 79.2,92.5 81.5,95.4 85.2,95.4 87.7,97.8 91.5,97.5 94.3,99.4 98.1,99.2 101.3,100.2 105.0,100.0" fill="#8fa897" opacity="1"/><polygon points="105.0,100.0 103.5,95.5 101.0,91.8 99.5,87.3 96.3,84.2 94.8,79.6 91.1,77.0 89.5,72.6 85.4,70.2 83.4,66.1 79.2,63.8 76.7,60.1 72.5,57.9 69.3,54.8 65.1,52.5 65.1,52.5 66.7,57.0 69.2,60.7 70.7,65.2 73.9,68.3 75.3,72.9 79.0,75.5 80.7,79.9 84.7,82.3 86.7,86.4 90.9,88.7 93.4,92.4 97.6,94.6 100.8,97.7 105.0,100.0" fill="#8fa897" opacity="1"/><polygon points="105.0,100.0 105.8,96.3 105.4,93.0 106.2,89.4 104.9,86.3 105.8,82.6 103.9,79.7 104.5,76.1 102.1,73.3 102.4,69.8 99.8,67.0 99.3,63.7 96.8,60.9 95.5,57.8 93.0,55.1 93.0,55.1 92.2,58.7 92.6,62.1 91.7,65.7 93.0,68.8 92.2,72.5 94.1,75.4 93.4,79.0 95.8,81.8 95.6,85.3 98.2,88.1 98.6,91.4 101.2,94.1 102.5,97.2 105.0,100.0" fill="#8fa897" opacity="1"/><polygon points="105.0,100.0 107.5,95.9 108.7,91.7 111.2,87.6 111.5,83.2 114.1,79.1 113.7,74.6 116.0,70.5 115.3,65.8 117.1,61.7 116.1,57.0 117.3,52.7 116.4,48.0 116.7,43.6 115.8,38.9 115.8,38.9 113.3,43.0 112.1,47.3 109.6,51.3 109.3,55.8 106.7,59.8 107.1,64.4 104.7,68.5 105.5,73.1 103.6,77.3 104.6,81.9 103.4,86.2 104.4,90.9 104.1,95.3 105.0,100.0" fill="#8fa897" opacity="1"/><polygon points="105.0,100.0 108.3,98.3 110.6,95.8 113.9,94.1 115.5,91.1 118.9,89.4 119.8,86.1 123.0,84.3 123.7,80.6 126.5,78.5 126.9,74.8 129.2,72.3 129.6,68.6 131.2,65.6 131.7,61.9 131.7,61.9 128.4,63.6 126.1,66.1 122.7,67.8 121.2,70.8 117.8,72.5 116.8,75.8 113.6,77.7 113.0,81.3 110.2,83.4 109.8,87.1 107.5,89.6 107.0,93.3 105.5,96.3 105.0,100.0" fill="#8fa897" opacity="1"/><polygon points="105.0,100.0 109.7,99.3 113.8,97.5 118.5,96.8 122.1,94.2 126.8,93.5 130.1,90.3 134.7,89.5 137.8,85.9 142.2,84.7 145.1,80.9 149.2,79.1 152.1,75.3 155.7,72.7 158.7,69.0 158.7,69.0 154.0,69.7 149.9,71.5 145.2,72.2 141.6,74.8 136.9,75.5 133.6,78.7 129.0,79.5 125.9,83.1 121.5,84.3 118.6,88.1 114.5,89.9 111.6,93.7 108.0,96.3 105.0,100.0" fill="#8fa897" opacity="1"/><polygon points="105.0,100.0 108.5,101.2 111.9,101.2 115.4,102.5 118.6,101.6 122.2,102.9 125.3,101.4 128.8,102.5 131.9,100.4 135.3,101.1 138.4,98.8 141.7,98.8 144.8,96.6 148.0,95.7 151.0,93.5 151.0,93.5 147.5,92.3 144.2,92.3 140.6,91.0 137.4,91.9 133.9,90.6 130.7,92.2 127.2,91.1 124.2,93.1 120.7,92.5 117.7,94.7 114.3,94.7 111.3,96.9 108.0,97.8 105.0,100.0" fill="#8fa897" opacity="1"/><polygon points="105.0,100.0 108.9,102.7 113.1,104.3 116.9,107.0 121.3,107.7 125.2,110.5 129.8,110.5 133.7,113.1 138.4,112.6 142.4,114.8 147.1,114.1 151.3,115.6 156.0,115.0 160.4,115.6 165.2,115.0 165.2,115.0 161.3,112.3 157.1,110.7 153.2,108.0 148.8,107.3 145.0,104.5 140.4,104.5 136.5,101.9 131.8,102.4 127.8,100.2 123.0,100.9 118.8,99.4 114.1,100.0 109.7,99.4 105.0,100.0" fill="#8fa897" opacity="1"/><polygon points="105.0,100.0 101.3,100.2 98.2,101.4 94.4,101.6 91.7,103.6 88.0,103.7 85.7,106.4 82.0,106.6 79.9,109.7 76.5,110.4 74.5,113.6 71.4,114.9 69.4,118.0 66.7,120.1 64.7,123.2 64.7,123.3 68.5,123.1 71.6,121.8 75.3,121.7 78.0,119.6 81.8,119.5 84.1,116.9 87.7,116.6 89.8,113.6 93.3,112.9 95.2,109.7 98.3,108.4 100.3,105.2 103.0,103.2 105.0,100.0" fill="#8fa897" opacity="1"/><polygon points="105.0,100.0 100.3,99.1 95.9,99.4 91.2,98.4 86.9,99.6 82.3,98.6 78.1,100.5 73.5,99.7 69.4,102.1 64.8,101.7 60.8,104.3 56.3,104.6 52.3,107.1 48.0,108.3 43.9,110.8 43.9,110.8 48.6,111.7 53.0,111.4 57.7,112.3 62.0,111.1 66.7,112.1 70.8,110.3 75.5,111.0 79.6,108.7 84.1,109.1 88.2,106.5 92.6,106.2 96.7,103.7 100.9,102.5 105.0,100.0" fill="#8fa897" opacity="1"/><polygon points="140.0,128.0 138.9,124.5 136.8,122.6 135.7,119.2 133.0,118.3 131.9,114.8 128.8,114.8 127.6,111.5 124.1,112.1 122.5,109.4 118.9,110.2 116.9,108.3 113.3,109.1 110.7,108.3 107.1,109.0 107.1,109.0 108.2,112.5 110.3,114.4 111.4,117.8 114.1,118.7 115.1,122.2 118.3,122.2 119.5,125.5 123.0,124.9 124.5,127.6 128.2,126.8 130.2,128.7 133.8,127.9 136.4,128.7 140.0,128.0" fill="#bfc5b0" opacity="1"/><polygon points="140.0,128.0 141.6,125.3 141.5,123.1 143.1,120.4 141.8,118.7 143.5,115.9 141.3,114.5 142.7,111.9 139.9,110.7 140.7,108.3 137.6,107.2 137.5,105.1 134.5,104.0 133.2,102.3 130.3,101.2 130.3,101.2 128.7,104.0 128.8,106.1 127.2,108.8 128.4,110.5 126.8,113.3 129.0,114.7 127.6,117.4 130.3,118.5 129.6,121.0 132.6,122.0 132.7,124.1 135.7,125.2 137.0,126.9 140.0,128.0" fill="#bfc5b0" opacity="1"/><polygon points="140.0,128.0 143.2,126.3 144.7,123.9 148.0,122.2 148.3,119.5 151.6,117.8 151.0,114.7 154.1,112.9 152.9,109.6 155.3,107.6 153.9,104.2 155.4,101.8 154.0,98.4 154.3,95.7 153.0,92.3 153.0,92.3 149.8,94.0 148.3,96.3 145.0,98.1 144.7,100.8 141.4,102.5 141.9,105.6 138.9,107.4 140.1,110.7 137.7,112.7 139.1,116.1 137.6,118.5 139.0,121.9 138.7,124.6 140.0,128.0" fill="#bfc5b0" opacity="1"/><polygon points="140.0,128.0 143.0,129.1 145.1,128.6 148.0,129.7 149.5,128.2 152.5,129.3 153.5,126.9 156.4,127.8 157.0,124.9 159.6,125.3 160.1,122.1 162.2,121.6 162.7,118.4 164.1,116.9 164.7,113.8 164.7,113.7 161.7,112.7 159.6,113.1 156.6,112.0 155.2,113.6 152.2,112.4 151.2,114.8 148.3,113.9 147.7,116.8 145.1,116.5 144.6,119.7 142.5,120.2 142.0,123.3 140.6,124.9 140.0,128.0" fill="#bfc5b0" opacity="1"/><polygon points="140.0,128.0 142.3,130.9 144.8,131.9 147.1,134.8 149.8,134.7 152.1,137.6 155.0,136.6 157.3,139.2 160.4,137.5 162.8,139.5 165.9,137.5 168.4,138.6 171.5,136.7 174.3,136.5 177.4,134.6 177.4,134.6 175.2,131.7 172.6,130.7 170.4,127.8 167.6,127.9 165.3,124.9 162.4,126.0 160.1,123.4 157.1,125.1 154.7,123.1 151.5,125.1 149.0,124.0 145.9,125.9 143.1,126.1 140.0,128.0" fill="#bfc5b0" opacity="1"/><polygon points="70.0,170.0 65.0,166.4 59.9,165.3 54.9,161.6 49.7,162.3 44.7,158.5 39.5,160.6 34.4,157.3 29.2,160.2 24.1,157.8 18.8,161.2 13.7,160.1 8.5,163.5 3.3,164.2 -2.0,167.5 -2.0,167.5 3.1,171.1 8.2,172.2 13.2,175.9 18.4,175.2 23.4,179.0 28.6,176.9 33.6,180.2 38.9,177.2 43.9,179.7 49.2,176.3 54.3,177.3 59.6,174.0 64.7,173.3 70.0,170.0" fill="#8aa796" opacity="1"/><polygon points="70.0,170.0 68.4,165.1 65.5,162.4 63.9,157.4 60.1,156.2 58.6,151.2 54.1,151.2 52.4,146.5 47.4,147.4 45.2,143.5 40.1,144.7 37.2,142.0 32.1,143.1 28.3,141.9 23.2,143.0 23.2,143.0 24.8,147.9 27.7,150.6 29.3,155.6 33.1,156.8 34.6,161.8 39.1,161.8 40.9,166.5 45.8,165.6 48.0,169.5 53.1,168.3 56.0,171.0 61.1,169.9 64.9,171.1 70.0,170.0" fill="#8aa796" opacity="1"/><polygon points="70.0,170.0 69.9,163.8 67.7,159.1 67.6,152.8 63.9,149.1 63.9,142.9 59.1,139.9 58.8,133.9 53.2,131.5 52.1,126.0 46.2,123.9 44.0,119.1 38.2,116.9 34.5,113.3 28.7,111.0 28.7,111.0 28.8,117.2 31.0,121.9 31.1,128.2 34.8,131.9 34.8,138.2 39.6,141.1 39.9,147.1 45.5,149.5 46.6,155.0 52.5,157.2 54.7,161.9 60.5,164.1 64.2,167.8 70.0,170.0" fill="#8aa796" opacity="1"/><polygon points="70.0,170.0 72.7,165.6 73.0,161.6 75.8,157.2 74.2,153.6 77.1,149.2 74.2,145.8 76.6,141.4 72.8,138.2 74.4,134.0 70.2,130.8 70.4,126.8 66.3,123.7 64.7,120.0 60.6,116.8 60.6,116.8 57.9,121.2 57.7,125.2 54.9,129.6 56.4,133.2 53.6,137.7 56.4,141.1 54.0,145.4 57.8,148.7 56.2,152.8 60.4,156.0 60.2,160.0 64.4,163.2 65.9,166.8 70.0,170.0" fill="#8aa796" opacity="1"/><polygon points="70.0,170.0 64.3,167.5 59.1,167.5 53.4,164.9 48.5,166.7 42.8,164.0 38.2,167.2 32.5,164.9 28.0,168.9 22.6,167.6 18.1,172.1 12.9,172.1 8.5,176.4 3.6,178.2 -0.9,182.5 -0.9,182.5 4.8,185.0 10.0,185.0 15.7,187.6 20.6,185.8 26.3,188.5 30.9,185.3 36.5,187.6 41.1,183.6 46.5,184.9 51.0,180.4 56.2,180.4 60.6,176.1 65.5,174.3 70.0,170.0" fill="#8aa796" opacity="1"/><polygon points="70.0,170.0 64.8,169.8 61.3,171.6 56.1,171.4 53.7,174.6 48.4,174.3 46.9,178.5 41.9,178.5 41.0,183.5 36.6,184.2 36.0,189.4 32.4,191.2 31.7,196.4 29.4,199.6 28.6,204.7 28.6,204.7 33.8,204.9 37.3,203.1 42.6,203.3 44.9,200.1 50.2,200.4 51.7,196.2 56.7,196.2 57.6,191.3 62.0,190.5 62.7,185.3 66.2,183.5 66.9,178.3 69.3,175.1 70.0,170.0" fill="#8aa796" opacity="1"/><polygon points="70.0,170.0 64.9,173.5 62.1,177.9 56.9,181.4 55.8,186.5 50.6,189.9 50.7,195.5 45.9,199.1 46.9,205.0 42.9,209.0 44.3,215.1 41.5,219.5 42.8,225.6 41.8,230.7 43.0,236.8 43.0,236.8 48.2,233.3 50.9,228.9 56.1,225.4 57.2,220.3 62.5,216.9 62.3,211.3 67.2,207.7 66.2,201.7 70.2,197.8 68.8,191.7 71.5,187.3 70.2,181.2 71.3,176.1 70.0,170.0" fill="#8aa796" opacity="1"/><polygon points="70.0,170.0 66.5,173.9 65.6,177.7 62.1,181.6 63.0,185.4 59.4,189.3 61.7,193.1 58.5,197.0 61.7,200.9 59.4,204.7 63.0,208.6 62.1,212.4 65.6,216.3 66.5,220.1 70.0,224.0 70.0,224.0 73.5,220.1 74.4,216.3 77.9,212.4 77.0,208.6 80.6,204.7 78.3,200.9 81.5,197.0 78.3,193.1 80.6,189.3 77.0,185.4 77.9,181.6 74.4,177.7 73.5,173.9 70.0,170.0" fill="#8aa796" opacity="1"/><polygon points="70.0,170.0 68.9,176.1 70.2,181.2 69.1,187.3 72.0,191.6 70.8,197.8 74.9,201.6 74.1,207.6 79.1,211.0 79.2,216.6 84.5,219.8 85.8,224.9 91.1,228.2 94.0,232.5 99.3,235.8 99.3,235.8 100.4,229.7 99.1,224.6 100.2,218.5 97.3,214.1 98.5,208.0 94.3,204.2 95.1,198.2 90.2,194.8 90.1,189.2 84.7,186.0 83.5,180.9 78.2,177.6 75.2,173.3 70.0,170.0" fill="#8aa796" opacity="1"/><polygon points="70.0,170.0 70.6,175.1 72.8,178.4 73.3,183.6 76.8,185.5 77.3,190.8 81.6,191.7 82.4,196.6 87.4,196.8 88.7,201.1 94.0,201.0 96.3,204.2 101.5,204.2 105.0,206.1 110.1,206.1 110.1,206.1 109.6,201.0 107.3,197.7 106.8,192.5 103.3,190.6 102.9,185.4 98.5,184.5 97.8,179.5 92.8,179.3 91.4,175.0 86.1,175.1 83.9,171.9 78.6,171.9 75.2,170.0 70.0,170.0" fill="#8aa796" opacity="1"/><polygon points="70.0,170.0 73.8,174.9 78.4,177.3 82.2,182.3 87.4,183.0 91.2,188.0 96.8,187.5 100.7,192.1 106.6,190.6 110.8,194.4 116.8,192.5 121.4,195.0 127.3,193.2 132.5,193.9 138.5,192.2 138.5,192.2 134.7,187.4 130.0,184.9 126.2,180.0 121.1,179.3 117.3,174.2 111.7,174.8 107.8,170.2 101.9,171.6 97.7,167.9 91.7,169.7 87.1,167.3 81.1,169.0 76.0,168.3 70.0,170.0" fill="#8aa796" opacity="1"/><polygon points="110.0,195.0 111.3,199.5 113.9,202.6 115.2,207.1 118.7,209.1 119.9,213.7 124.0,214.9 125.5,219.3 130.1,220.0 132.0,223.8 136.7,224.3 139.3,227.3 144.0,227.8 147.5,229.8 152.1,230.4 152.1,230.4 150.8,225.8 148.2,222.8 146.9,218.2 143.5,216.2 142.2,211.6 138.1,210.4 136.6,206.1 132.1,205.4 130.1,201.5 125.4,201.1 122.8,198.0 118.1,197.5 114.7,195.5 110.0,195.0" fill="#a8bdab" opacity="1"/><polygon points="110.0,195.0 108.6,198.7 108.9,201.7 107.5,205.3 109.1,207.9 107.6,211.6 110.2,213.7 108.9,217.3 112.2,219.3 111.6,222.6 115.2,224.5 115.5,227.5 119.0,229.3 120.7,231.9 124.1,233.8 124.1,233.8 125.5,230.1 125.2,227.1 126.6,223.4 125.0,220.9 126.5,217.2 123.9,215.0 125.2,211.4 121.9,209.5 122.5,206.1 119.0,204.3 118.6,201.3 115.1,199.4 113.4,196.9 110.0,195.0" fill="#a8bdab" opacity="1"/><polygon points="110.0,195.0 106.8,198.4 105.4,202.2 102.1,205.6 102.1,209.6 98.8,213.0 99.8,217.1 96.7,220.6 98.4,224.9 96.0,228.4 98.0,232.8 96.7,236.5 98.6,240.9 98.6,244.8 100.4,249.2 100.4,249.2 103.7,245.7 105.0,242.0 108.3,238.6 108.3,234.6 111.7,231.2 110.7,227.0 113.7,223.6 112.1,219.3 114.4,215.7 112.4,211.4 113.8,207.6 111.9,203.3 111.9,199.3 110.0,195.0" fill="#a8bdab" opacity="1"/><polygon points="140.0,205.0 139.7,210.3 141.2,214.5 140.8,219.9 143.7,223.3 143.3,228.7 147.2,231.6 147.0,236.7 151.6,239.2 152.1,244.0 157.0,246.3 158.6,250.5 163.4,252.9 166.2,256.3 171.0,258.7 171.0,258.7 171.3,253.4 169.8,249.2 170.2,243.8 167.3,240.4 167.7,235.0 163.8,232.1 164.0,227.0 159.4,224.5 158.9,219.7 154.0,217.4 152.4,213.2 147.6,210.8 144.8,207.4 140.0,205.0" fill="#4d6357" opacity="1"/><polygon points="140.0,205.0 137.4,208.6 136.9,211.9 134.2,215.5 135.2,218.8 132.5,222.3 134.7,225.5 132.3,229.0 135.3,232.1 133.6,235.6 137.0,238.6 136.5,242.0 139.8,245.0 140.8,248.3 144.1,251.3 144.1,251.3 146.7,247.8 147.2,244.4 149.9,240.8 148.8,237.6 151.6,234.0 149.4,230.9 151.8,227.3 148.8,224.2 150.4,220.8 147.1,217.7 147.5,214.3 144.3,211.3 143.2,208.1 140.0,205.0" fill="#4d6357" opacity="1"/><polygon points="140.0,205.0 135.7,208.2 133.5,212.1 129.2,215.2 128.4,219.6 124.0,222.7 124.3,227.5 120.2,230.8 121.2,235.9 117.9,239.4 119.3,244.6 117.0,248.5 118.3,253.7 117.5,258.1 118.8,263.3 118.8,263.3 123.1,260.1 125.3,256.2 129.6,253.1 130.4,248.6 134.8,245.5 134.5,240.7 138.6,237.5 137.6,232.4 140.9,228.9 139.5,223.7 141.8,219.8 140.5,214.6 141.2,210.2 140.0,205.0" fill="#4d6357" opacity="1"/><polygon points="140.0,205.0 135.6,205.3 132.7,207.1 128.2,207.3 126.4,210.2 121.9,210.4 120.9,214.1 116.6,214.5 116.2,218.8 112.5,219.8 112.3,224.3 109.4,226.1 109.2,230.6 107.4,233.5 107.1,237.9 107.1,237.9 111.5,237.6 114.4,235.8 118.9,235.6 120.7,232.7 125.2,232.5 126.2,228.8 130.5,228.4 130.9,224.1 134.6,223.1 134.8,218.6 137.7,216.8 137.9,212.3 139.7,209.4 140.0,205.0" fill="#4d6357" opacity="1"/><polygon points="200.0,162.0 196.2,158.8 192.3,157.8 188.5,154.5 184.5,155.2 180.7,151.8 176.7,153.7 172.9,150.7 168.9,153.4 165.0,151.3 161.0,154.3 157.1,153.4 153.0,156.4 149.1,157.1 145.0,160.1 145.0,160.1 148.9,163.3 152.7,164.3 156.6,167.6 160.5,166.9 164.3,170.3 168.3,168.4 172.2,171.4 176.2,168.7 180.0,170.8 184.1,167.7 188.0,168.7 192.0,165.6 196.0,165.0 200.0,162.0" fill="#a8b3a0" opacity="1"/><polygon points="200.0,162.0 199.0,157.8 196.9,155.7 195.9,151.4 192.9,150.7 192.0,146.4 188.4,146.7 187.3,142.7 183.3,143.7 181.8,140.5 177.6,141.8 175.5,139.7 171.3,140.9 168.4,140.2 164.3,141.4 164.3,141.4 165.3,145.5 167.4,147.7 168.4,151.9 171.3,152.7 172.3,157.0 175.8,156.7 177.0,160.7 180.9,159.7 182.5,162.9 186.7,161.5 188.8,163.7 192.9,162.5 195.9,163.2 200.0,162.0" fill="#a8b3a0" opacity="1"/><polygon points="200.0,162.0 200.6,157.0 199.2,153.3 199.8,148.2 197.0,145.3 197.7,140.3 193.9,138.0 194.2,133.2 189.7,131.4 189.3,127.0 184.5,125.4 183.1,121.6 178.3,119.9 175.6,117.0 170.9,115.4 170.9,115.4 170.3,120.3 171.7,124.1 171.1,129.1 173.9,132.0 173.2,137.1 177.0,139.3 176.6,144.2 181.2,146.0 181.5,150.4 186.3,152.0 187.7,155.8 192.5,157.4 195.3,160.3 200.0,162.0" fill="#a8b3a0" opacity="1"/><polygon points="200.0,162.0 196.8,159.2 193.8,158.6 190.6,155.7 187.7,156.8 184.5,153.8 181.7,156.1 178.6,153.5 175.9,156.6 172.8,154.8 170.1,158.3 167.1,157.8 164.4,161.2 161.6,162.2 158.9,165.6 158.9,165.6 162.1,168.4 165.1,169.0 168.3,171.9 171.2,170.8 174.4,173.8 177.2,171.5 180.4,174.1 183.0,171.0 186.2,172.8 188.8,169.3 191.8,169.8 194.5,166.4 197.3,165.4 200.0,162.0" fill="#a8b3a0" opacity="1"/><polygon points="200.0,162.0 195.0,161.3 191.2,162.5 186.2,161.8 183.2,164.4 178.2,163.6 175.8,167.3 171.0,166.8 169.0,171.2 164.6,171.4 162.8,176.2 159.0,177.5 157.2,182.2 154.2,184.8 152.4,189.5 152.4,189.5 157.3,190.2 161.1,189.0 166.1,189.7 169.1,187.1 174.1,187.9 176.5,184.2 181.4,184.7 183.3,180.3 187.7,180.1 189.5,175.3 193.3,174.0 195.2,169.3 198.2,166.7 200.0,162.0" fill="#a8b3a0" opacity="1"/><polygon points="200.0,162.0 195.8,162.6 193.4,164.6 189.1,165.2 188.1,168.1 183.8,168.6 183.7,172.2 179.7,173.0 180.3,177.0 177.0,178.3 178.0,182.5 175.6,184.5 176.5,188.7 175.5,191.6 176.3,195.8 176.3,195.8 180.6,195.2 182.9,193.2 187.2,192.6 188.2,189.7 192.6,189.2 192.6,185.6 196.6,184.8 196.0,180.8 199.3,179.5 198.4,175.3 200.7,173.3 199.8,169.1 200.9,166.2 200.0,162.0" fill="#a8b3a0" opacity="1"/><polygon points="200.0,162.0 196.3,165.3 194.8,169.1 191.0,172.4 191.1,176.4 187.2,179.7 188.5,183.9 185.0,187.3 187.2,191.6 184.5,195.2 187.0,199.6 185.5,203.3 188.0,207.7 188.1,211.8 190.4,216.2 190.4,216.2 194.2,212.8 195.7,209.1 199.5,205.8 199.4,201.8 203.2,198.5 201.9,194.3 205.4,190.9 203.3,186.5 206.0,183.0 203.5,178.6 204.9,174.8 202.5,170.4 202.4,166.4 200.0,162.0" fill="#a8b3a0" opacity="1"/><polygon points="200.0,162.0 198.0,165.8 198.1,168.8 196.0,172.6 197.7,175.2 195.5,179.0 198.3,181.1 196.5,184.8 200.2,186.7 199.1,190.2 203.1,192.0 203.3,195.0 207.2,196.8 208.9,199.4 212.7,201.2 212.7,201.2 214.8,197.5 214.7,194.4 216.8,190.6 215.1,188.1 217.3,184.3 214.4,182.1 216.2,178.4 212.6,176.5 213.6,173.1 209.6,171.3 209.5,168.2 205.6,166.4 203.9,163.8 200.0,162.0" fill="#a8b3a0" opacity="1"/><polygon points="215.0,225.0 211.9,223.0 208.7,222.4 205.5,220.3 202.3,220.7 199.1,218.6 195.9,219.7 192.7,217.9 189.5,219.5 186.3,218.2 183.0,220.0 179.8,219.4 176.5,221.3 173.3,221.6 170.0,223.4 170.0,223.4 173.2,225.4 176.4,226.0 179.5,228.1 182.7,227.7 185.9,229.8 189.1,228.7 192.3,230.5 195.6,228.9 198.7,230.3 202.0,228.4 205.2,229.0 208.5,227.2 211.7,226.8 215.0,225.0" fill="#4b5b4c" opacity="1"/><polygon points="215.0,225.0 213.4,222.4 211.3,221.1 209.7,218.5 207.3,218.1 205.7,215.4 203.0,215.7 201.3,213.3 198.4,214.1 196.6,212.1 193.7,213.1 191.6,211.9 188.6,212.9 186.2,212.5 183.3,213.5 183.3,213.5 184.9,216.1 187.0,217.4 188.6,220.0 191.0,220.4 192.6,223.0 195.3,222.7 197.0,225.2 199.8,224.4 201.7,226.3 204.6,225.3 206.7,226.6 209.6,225.6 212.1,226.0 215.0,225.0" fill="#4b5b4c" opacity="1"/><polygon points="215.0,225.0 211.7,223.2 208.5,222.8 205.2,221.0 202.0,221.6 198.7,219.7 195.6,221.1 192.3,219.5 189.1,221.3 185.9,220.2 182.7,222.3 179.5,221.9 176.4,224.0 173.2,224.6 170.0,226.6 170.0,226.6 173.3,228.4 176.5,228.7 179.8,230.6 183.0,230.0 186.3,231.8 189.5,230.5 192.7,232.1 195.9,230.3 199.1,231.4 202.3,229.3 205.5,229.7 208.7,227.6 211.9,227.0 215.0,225.0" fill="#4b5b4c" opacity="1"/><polygon points="215.0,225.0 212.1,224.0 209.6,224.4 206.7,223.4 204.6,224.7 201.7,223.7 199.8,225.6 197.0,224.8 195.3,227.3 192.6,227.0 191.0,229.6 188.6,230.0 187.0,232.6 184.9,233.9 183.3,236.5 183.3,236.5 186.2,237.5 188.6,237.1 191.6,238.1 193.7,236.9 196.6,237.9 198.4,235.9 201.3,236.7 203.0,234.3 205.7,234.6 207.3,231.9 209.7,231.5 211.3,228.9 213.4,227.6 215.0,225.0" fill="#4b5b4c" opacity="1"/><polygon points="292.0,195.0 290.4,192.6 288.5,191.7 286.9,189.3 284.8,189.5 283.3,187.0 281.1,188.0 279.4,185.8 277.1,187.3 275.4,185.6 273.0,187.4 271.2,186.5 268.8,188.3 266.8,188.4 264.4,190.1 264.4,190.1 266.0,192.5 267.9,193.4 269.5,195.8 271.6,195.7 273.2,198.1 275.4,197.1 277.0,199.4 279.3,197.8 281.0,199.5 283.4,197.7 285.3,198.6 287.6,196.9 289.7,196.7 292.0,195.0" fill="#bfc8b6" opacity="1"/><polygon points="292.0,195.0 292.2,192.4 291.4,191.1 291.6,188.5 290.1,187.9 290.3,185.3 288.3,185.4 288.4,183.0 286.0,183.5 285.7,181.5 283.2,182.1 282.4,180.8 279.9,181.4 278.4,180.9 275.9,181.5 275.9,181.5 275.7,184.1 276.5,185.4 276.3,188.0 277.8,188.6 277.6,191.2 279.6,191.1 279.5,193.5 281.9,193.0 282.2,195.0 284.7,194.4 285.5,195.7 288.0,195.1 289.5,195.6 292.0,195.0" fill="#bfc8b6" opacity="1"/><polygon points="292.0,195.0 293.3,192.4 293.1,190.3 294.4,187.7 293.2,186.0 294.5,183.4 292.6,182.0 293.7,179.5 291.2,178.3 291.8,175.9 289.1,174.8 288.9,172.7 286.2,171.6 285.1,169.9 282.4,168.7 282.4,168.7 281.2,171.3 281.3,173.3 280.0,175.9 281.2,177.6 279.9,180.3 281.8,181.7 280.7,184.2 283.2,185.4 282.6,187.8 285.3,188.9 285.5,191.0 288.2,192.1 289.4,193.8 292.0,195.0" fill="#bfc8b6" opacity="1"/><polygon points="292.0,195.0 289.7,194.0 288.1,194.2 285.7,193.2 284.7,194.4 282.3,193.3 281.7,195.2 279.5,194.3 279.1,196.7 277.1,196.3 276.9,198.9 275.3,199.2 275.1,201.7 274.1,203.0 273.8,205.5 273.8,205.5 276.1,206.5 277.7,206.3 280.1,207.3 281.1,206.1 283.5,207.2 284.1,205.3 286.4,206.2 286.7,203.8 288.7,204.2 288.9,201.6 290.5,201.3 290.7,198.8 291.7,197.5 292.0,195.0" fill="#bfc8b6" opacity="1"/><polygon points="292.0,195.0 289.2,195.7 287.7,197.2 284.9,197.8 284.4,199.8 281.5,200.5 281.7,202.9 279.0,203.7 279.7,206.4 277.5,207.4 278.4,210.2 276.9,211.7 277.7,214.5 277.2,216.5 278.0,219.2 278.0,219.2 280.8,218.6 282.3,217.1 285.1,216.4 285.6,214.4 288.5,213.8 288.3,211.4 291.0,210.6 290.3,207.9 292.5,206.8 291.6,204.0 293.1,202.6 292.3,199.8 292.8,197.8 292.0,195.0" fill="#bfc8b6" opacity="1"/></g><g filter="url(#bl2)"><path d="M222 186 Q250 180 282 182 L288 258 Q270 285 245 290 L228 290 Z" fill="#2b1615"/><path d="M176 100 L226 98 L232 150 L196 158 L174 140Z" fill="#2c1716" opacity=".9"/><rect x="151" y="20" width="16" height="75" fill="#bdb3ac" opacity=".85"/><path d="M100 8 L140 4 L148 30 L120 36Z" fill="#2d1b1a" opacity=".7"/><ellipse cx="95" cy="285" rx="30" ry="14" fill="#2d1b1a"/></g><g filter="url(#bl3)"><path d="M150 222 C170 210 200 214 222 226 L226 303 L148 303 C140 280 142 245 150 222Z" fill="#e5dace"/><path d="M150 212 C170 200 200 205 220 220 L215 235 C195 226 170 224 152 232Z" fill="#a3a99b"/></g></g>
<path d="M151.5 10.5 A141 141 0 0 1 290.3 176.0" fill="none" stroke="#928ed9" stroke-width="21"/>
</svg>
<div class="t" style="top:1015.90px;font-size:16.3px;color:#8fa2ad;font-weight:700;letter-spacing:-1px;left:1009.60px;width:800px;text-align:center;text-indent:-1px;">Today</div>
<div class="r" style="left:109.10px;top:1057.00px;width:173.60px;height:39.00px;background:#877464;border-radius:4px;"></div>
<div class="r" style="left:284.80px;top:1057.00px;width:629.40px;height:39.00px;background:#72b979;border-radius:4px;"></div>
<div class="r" style="left:916.30px;top:1057.00px;width:1815.70px;height:39.00px;background:linear-gradient(90deg,#9390d8 0,#9390d8 493px,#cccbeb 493px);border-radius:4px;"></div>
<div class="r" style="left:2734.10px;top:1057.00px;width:23.90px;height:39.00px;background:#f7d9ab;border-radius:4px;"></div>
<div class="r" style="left:109.10px;top:1103.50px;width:173.60px;height:7.50px;background:#877464;border-radius:4px;"></div>
<div class="r" style="left:284.80px;top:1103.50px;width:529.00px;height:7.50px;background:#72b979;border-radius:4px;"></div>
<div class="r" style="left:815.60px;top:1103.50px;width:1814.40px;height:7.50px;background:linear-gradient(90deg,#9390d8 0,#9390d8 594px,#cccbeb 594px);border-radius:4px;"></div>
<div class="r" style="left:2632.00px;top:1103.50px;width:23.80px;height:7.50px;background:#f7d9ab;border-radius:4px;"></div>
<div class="t" style="top:1069.73px;font-size:14.5px;color:#fff;font-weight:700;left:-180.70px;width:800px;text-align:center;">7/7</div>
<div class="t" style="top:1069.73px;font-size:14.5px;color:#fff;font-weight:700;left:458.00px;width:800px;text-align:center;">25/21</div>
<div class="t" style="top:1069.73px;font-size:14.5px;color:#fff;font-weight:700;left:2277.40px;width:800px;text-align:center;">20/72</div>
<svg class="r" style="left:1403.00px;top:1039.00px;" width="16" height="84" viewBox="0 0 16 84"><polygon points="1.2,1.2 14.6,1.2 8,7.4" fill="#b46a6a"/><rect x="6.6" y="6" width="2.8" height="76.5" fill="#b86c6a"/></svg>
<svg class="r" style="left:123.50px;top:1068.50px;" width="18" height="16" viewBox="0 0 18 16"><g fill="#fff">
<path d="M7.6 0.5C4.5 0.3 2.8 1 3.1 2.4 3.6 4.6 6 5.6 8.2 5.4L8.2 9H9.8V5.6C10 4.2 11.5 2.3 14 1.2 11 0.6 9.6 2 9.2 3.1 8.8 1.5 8.4 0.6 7.6 0.5Z"/>
<path d="M0.3 10.6 Q3 9.2 6 9.4 H9.5 Q11 9.6 10.8 10.8 H7.2 V11.6 H11 L15 9.2 Q16.6 8.6 17 9.8 L12.6 13.8 Q11.5 14.8 10 14.8 H0.3Z"/>
</g></svg>
<svg class="r" style="left:299.30px;top:1067.50px;" width="15" height="16" viewBox="0 0 512 512"><path d="M512 32c0 113.6-84.6 207.5-194.2 222c-7.1-53.4-30.6-101.6-65.3-139.3C290.8 46.3 364 0 448 0h32c17.7 0 32 14.3 32 32zM0 96C0 78.3 14.3 64 32 64H64c123.7 0 224 100.3 224 224v32V480c0 17.7-14.3 32-32 32s-32-14.3-32-32V320C100.3 320 0 219.7 0 96z" fill="#fff"/></svg>
<svg class="r" style="left:930.80px;top:1067.50px;" width="15.5" height="15.5" viewBox="0 0 38 38"><g fill="#fff">
<circle cx="14" cy="6.3" r="5.6"/><circle cx="24.6" cy="6.3" r="5.6"/>
<circle cx="14" cy="14.6" r="5.6"/><circle cx="24.6" cy="14.6" r="5.6"/>
<rect x="13" y="5" width="12.6" height="12.5"/>
<rect x="17" y="16" width="4.5" height="17"/>
<path d="M0.5 25.2Q0.5 22.8 3 22.8C10 22.8 16 26 19.1 31.5C22.2 26 28.2 22.8 35.2 22.8Q37.7 22.8 37.7 25.2C37 32 31.5 37.3 25 37.3H13.2C6.7 37.3 1.2 32 0.5 25.2Z"/>
</g><circle cx="19.3" cy="10.45" r="3.5" fill="#9390d8"/></svg>
<div class="t" style="top:1223.02px;font-size:21px;color:#8fa2ad;-webkit-text-stroke:0.5px #8fa2ad;left:136.50px;">#</div>
<div class="t" style="top:1223.02px;font-size:21px;color:#8fa2ad;-webkit-text-stroke:0.5px #8fa2ad;letter-spacing:0.65px;left:-55.50px;width:800px;text-align:center;text-indent:0.65px;">Phase</div>
<div class="t" style="top:1223.02px;font-size:21px;color:#8fa2ad;-webkit-text-stroke:0.5px #8fa2ad;letter-spacing:0.65px;left:320.00px;width:800px;text-align:center;text-indent:0.65px;">Planned Start</div>
<div class="t" style="top:1223.02px;font-size:21px;color:#8fa2ad;-webkit-text-stroke:0.5px #8fa2ad;letter-spacing:0.65px;left:591.00px;width:800px;text-align:center;text-indent:0.65px;">Planned End</div>
<div class="t" style="top:1223.02px;font-size:21px;color:#8fa2ad;-webkit-text-stroke:0.5px #8fa2ad;letter-spacing:0.65px;left:862.60px;width:800px;text-align:center;text-indent:0.65px;">Actual Start</div>
<div class="t" style="top:1223.02px;font-size:21px;color:#8fa2ad;-webkit-text-stroke:0.5px #8fa2ad;letter-spacing:0.65px;left:1133.80px;width:800px;text-align:center;text-indent:0.65px;">Actual End</div>
<div class="t" style="top:1223.02px;font-size:21px;color:#8fa2ad;-webkit-text-stroke:0.5px #8fa2ad;letter-spacing:0.65px;left:1574.50px;width:800px;text-align:center;text-indent:0.65px;">Remaining / Starts In</div>
<div class="t" style="top:1223.02px;font-size:21px;color:#8fa2ad;-webkit-text-stroke:0.5px #8fa2ad;letter-spacing:0.65px;left:1848.30px;width:800px;text-align:center;text-indent:0.65px;">Status</div>
<div class="t" style="top:1223.02px;font-size:21px;color:#8fa2ad;-webkit-text-stroke:0.5px #8fa2ad;letter-spacing:0.65px;right:148.60px;text-align:right;margin-right:-0.65px;">Actions</div>
<div class="t" style="top:1315.10px;font-size:21.5px;color:#8fa2ad;-webkit-text-stroke:0.5px #8fa2ad;left:136.50px;">1</div>
<div class="t" style="top:1315.10px;font-size:21.5px;color:#8fa2ad;-webkit-text-stroke:0.5px #8fa2ad;letter-spacing:0.65px;left:-55.50px;width:800px;text-align:center;text-indent:0.65px;">Immature</div>
<div class="t" style="top:1315.10px;font-size:21.5px;color:#8fa2ad;-webkit-text-stroke:0.5px #8fa2ad;letter-spacing:1.55px;left:320.00px;width:800px;text-align:center;text-indent:1.55px;">2023-04-01</div>
<div class="t" style="top:1315.10px;font-size:21.5px;color:#8fa2ad;-webkit-text-stroke:0.5px #8fa2ad;letter-spacing:1.55px;left:591.00px;width:800px;text-align:center;text-indent:1.55px;">2023-04-08</div>
<div class="t" style="top:1315.10px;font-size:21.5px;color:#8fa2ad;-webkit-text-stroke:0.5px #8fa2ad;letter-spacing:1.55px;left:862.60px;width:800px;text-align:center;text-indent:1.55px;">2023-04-01</div>
<div class="t" style="top:1315.10px;font-size:21.5px;color:#8fa2ad;-webkit-text-stroke:0.5px #8fa2ad;letter-spacing:1.55px;left:1133.80px;width:800px;text-align:center;text-indent:1.55px;">2023-04-08</div>
<div class="t" style="top:1315.10px;font-size:21.5px;color:#72b979;-webkit-text-stroke:0.5px #72b979;letter-spacing:0.65px;left:1574.50px;width:800px;text-align:center;text-indent:0.65px;">-</div>
<div class="t" style="top:1315.10px;font-size:21.5px;color:#72b979;-webkit-text-stroke:0.5px #72b979;letter-spacing:0.65px;left:1848.30px;width:800px;text-align:center;text-indent:0.65px;">Completed</div>
<div class="r" style="left:2462.00px;top:1307.10px;width:210.00px;height:47.60px;background:#8fa3ad;border-radius:8px;"></div>
<div class="r" style="left:2684.00px;top:1307.10px;width:48.00px;height:47.60px;background:#72b979;border-radius:8px;"></div>
<svg class="r" style="left:2478.10px;top:1324.40px;overflow:hidden" width="18.2" height="13.9" viewBox="0 62 512 390"><path d="M459.5 440.6c9.5 7.9 22.8 9.7 34.1 4.4s18.4-16.6 18.4-29V96c0-12.4-7.2-23.7-18.4-29s-24.5-3.6-34.1 4.4L288 214.3V256v41.7L459.5 440.6zM256 352V256 128 96c0-12.4-7.2-23.7-18.4-29s-24.5-3.6-34.1 4.4l-192 160C4.2 237.5 0 246.5 0 256s4.2 18.5 11.5 24.6l192 160c9.5 7.9 22.8 9.7 34.1 4.4s18.4-16.6 18.4-29V352z" fill="#fff"/></svg>
<div class="t" style="top:1321.22px;font-size:19px;color:#fff;-webkit-text-stroke:0.6px #fff;letter-spacing:0.5px;left:2173.20px;width:800px;text-align:center;text-indent:0.5px;">Reactivate</div>
<svg class="r" style="left:2700.10px;top:1322.20px;" width="18" height="18" viewBox="0 0 512 512"><path d="M471.6 21.7c-21.9-21.9-57.3-21.9-79.2 0L362.3 51.7l97.9 97.9 30.1-30.1c21.9-21.9 21.9-57.3 0-79.2L471.6 21.7zm-299.2 220c-6.1 6.1-10.8 13.6-13.5 21.9l-29.6 88.8c-2.9 8.6-.6 18.1 5.8 24.6s15.9 8.7 24.6 5.8l88.8-29.6c8.2-2.7 15.7-7.4 21.9-13.5L437.7 172.3 339.7 74.3 172.4 241.7zM96 64C43 64 0 107 0 160V416c0 53 43 96 96 96H352c53 0 96-43 96-96V320c0-17.7-14.3-32-32-32s-32 14.3-32 32v96c0 17.7-14.3 32-32 32H96c-17.7 0-32-14.3-32-32V160c0-17.7 14.3-32 32-32h96c17.7 0 32-14.3 32-32s-14.3-32-32-32H96z" fill="#fff"/></svg>
<div class="t" style="top:1423.10px;font-size:21.5px;color:#8fa2ad;-webkit-text-stroke:0.5px #8fa2ad;left:136.50px;">2</div>
<div class="t" style="top:1423.10px;font-size:21.5px;color:#8fa2ad;-webkit-text-stroke:0.5px #8fa2ad;letter-spacing:0.65px;left:-55.50px;width:800px;text-align:center;text-indent:0.65px;">Vegetative</div>
<div class="t" style="top:1423.10px;font-size:21.5px;color:#8fa2ad;-webkit-text-stroke:0.5px #8fa2ad;letter-spacing:1.55px;left:320.00px;width:800px;text-align:center;text-indent:1.55px;">2023-04-08</div>
<div class="t" style="top:1423.10px;font-size:21.5px;color:#8fa2ad;-webkit-text-stroke:0.5px #8fa2ad;letter-spacing:1.55px;left:591.00px;width:800px;text-align:center;text-indent:1.55px;">2023-04-29</div>
<div class="t" style="top:1423.10px;font-size:21.5px;color:#8fa2ad;-webkit-text-stroke:0.5px #8fa2ad;letter-spacing:1.55px;left:862.60px;width:800px;text-align:center;text-indent:1.55px;">2023-04-08</div>
<div class="t" style="top:1423.10px;font-size:21.5px;color:#8fa2ad;-webkit-text-stroke:0.5px #8fa2ad;letter-spacing:1.55px;left:1133.80px;width:800px;text-align:center;text-indent:1.55px;">2023-05-03</div>
<div class="t" style="top:1423.10px;font-size:21.5px;color:#72b979;-webkit-text-stroke:0.5px #72b979;letter-spacing:0.65px;left:1574.50px;width:800px;text-align:center;text-indent:0.65px;">-</div>
<div class="t" style="top:1423.10px;font-size:21.5px;color:#72b979;-webkit-text-stroke:0.5px #72b979;letter-spacing:0.65px;left:1848.30px;width:800px;text-align:center;text-indent:0.65px;">Completed</div>
<div class="r" style="left:2462.00px;top:1415.10px;width:210.00px;height:47.60px;background:#8fa3ad;border-radius:8px;"></div>
<div class="r" style="left:2684.00px;top:1415.10px;width:48.00px;height:47.60px;background:#72b979;border-radius:8px;"></div>
<svg class="r" style="left:2478.10px;top:1432.40px;overflow:hidden" width="18.2" height="13.9" viewBox="0 62 512 390"><path d="M459.5 440.6c9.5 7.9 22.8 9.7 34.1 4.4s18.4-16.6 18.4-29V96c0-12.4-7.2-23.7-18.4-29s-24.5-3.6-34.1 4.4L288 214.3V256v41.7L459.5 440.6zM256 352V256 128 96c0-12.4-7.2-23.7-18.4-29s-24.5-3.6-34.1 4.4l-192 160C4.2 237.5 0 246.5 0 256s4.2 18.5 11.5 24.6l192 160c9.5 7.9 22.8 9.7 34.1 4.4s18.4-16.6 18.4-29V352z" fill="#fff"/></svg>
<div class="t" style="top:1429.22px;font-size:19px;color:#fff;-webkit-text-stroke:0.6px #fff;letter-spacing:0.5px;left:2173.20px;width:800px;text-align:center;text-indent:0.5px;">Reactivate</div>
<svg class="r" style="left:2700.10px;top:1430.20px;" width="18" height="18" viewBox="0 0 512 512"><path d="M471.6 21.7c-21.9-21.9-57.3-21.9-79.2 0L362.3 51.7l97.9 97.9 30.1-30.1c21.9-21.9 21.9-57.3 0-79.2L471.6 21.7zm-299.2 220c-6.1 6.1-10.8 13.6-13.5 21.9l-29.6 88.8c-2.9 8.6-.6 18.1 5.8 24.6s15.9 8.7 24.6 5.8l88.8-29.6c8.2-2.7 15.7-7.4 21.9-13.5L437.7 172.3 339.7 74.3 172.4 241.7zM96 64C43 64 0 107 0 160V416c0 53 43 96 96 96H352c53 0 96-43 96-96V320c0-17.7-14.3-32-32-32s-32 14.3-32 32v96c0 17.7-14.3 32-32 32H96c-17.7 0-32-14.3-32-32V160c0-17.7 14.3-32 32-32h96c17.7 0 32-14.3 32-32s-14.3-32-32-32H96z" fill="#fff"/></svg>
<div class="t" style="top:1531.10px;font-size:21.5px;color:#8fa2ad;-webkit-text-stroke:0.5px #8fa2ad;left:136.50px;">3</div>
<div class="t" style="top:1531.10px;font-size:21.5px;color:#8fa2ad;-webkit-text-stroke:0.5px #8fa2ad;letter-spacing:0.65px;left:-55.50px;width:800px;text-align:center;text-indent:0.65px;">Flowering</div>
<div class="t" style="top:1531.10px;font-size:21.5px;color:#8fa2ad;-webkit-text-stroke:0.5px #8fa2ad;letter-spacing:1.55px;left:320.00px;width:800px;text-align:center;text-indent:1.55px;">2023-04-29</div>
<div class="t" style="top:1531.10px;font-size:21.5px;color:#8fa2ad;-webkit-text-stroke:0.5px #8fa2ad;letter-spacing:1.55px;left:591.00px;width:800px;text-align:center;text-indent:1.55px;">2023-07-10</div>
<div class="t" style="top:1531.10px;font-size:21.5px;color:#8fa2ad;-webkit-text-stroke:0.5px #8fa2ad;letter-spacing:1.55px;left:862.60px;width:800px;text-align:center;text-indent:1.55px;">2023-05-03</div>
<div class="t" style="top:1531.10px;font-size:21.5px;color:#8fa2ad;-webkit-text-stroke:0.5px #8fa2ad;left:1133.80px;width:800px;text-align:center;">-</div>
<div class="t" style="top:1531.10px;font-size:21.5px;color:#ecae55;-webkit-text-stroke:0.5px #ecae55;letter-spacing:0.65px;left:1574.50px;width:800px;text-align:center;text-indent:0.65px;">52 Days</div>
<div class="t" style="top:1531.10px;font-size:21.5px;color:#ecae55;-webkit-text-stroke:0.5px #ecae55;letter-spacing:0.65px;left:1848.30px;width:800px;text-align:center;text-indent:0.65px;">Running</div>
<div class="r" style="left:2462.00px;top:1523.10px;width:210.00px;height:47.60px;background:#dfe4e7;border-radius:8px;"></div>
<div class="r" style="left:2684.00px;top:1523.10px;width:48.00px;height:47.60px;background:#72b979;border-radius:8px;"></div>
<svg class="r" style="left:2478.10px;top:1540.40px;overflow:hidden" width="18.2" height="13.9" viewBox="0 62 512 390"><path d="M459.5 440.6c9.5 7.9 22.8 9.7 34.1 4.4s18.4-16.6 18.4-29V96c0-12.4-7.2-23.7-18.4-29s-24.5-3.6-34.1 4.4L288 214.3V256v41.7L459.5 440.6zM256 352V256 128 96c0-12.4-7.2-23.7-18.4-29s-24.5-3.6-34.1 4.4l-192 160C4.2 237.5 0 246.5 0 256s4.2 18.5 11.5 24.6l192 160c9.5 7.9 22.8 9.7 34.1 4.4s18.4-16.6 18.4-29V352z" fill="#f6f8f9"/></svg>
<div class="t" style="top:1537.22px;font-size:19px;color:#f6f8f9;-webkit-text-stroke:0.6px #f6f8f9;letter-spacing:0.5px;left:2173.20px;width:800px;text-align:center;text-indent:0.5px;">Reactivate</div>
<svg class="r" style="left:2700.10px;top:1538.20px;" width="18" height="18" viewBox="0 0 512 512"><path d="M471.6 21.7c-21.9-21.9-57.3-21.9-79.2 0L362.3 51.7l97.9 97.9 30.1-30.1c21.9-21.9 21.9-57.3 0-79.2L471.6 21.7zm-299.2 220c-6.1 6.1-10.8 13.6-13.5 21.9l-29.6 88.8c-2.9 8.6-.6 18.1 5.8 24.6s15.9 8.7 24.6 5.8l88.8-29.6c8.2-2.7 15.7-7.4 21.9-13.5L437.7 172.3 339.7 74.3 172.4 241.7zM96 64C43 64 0 107 0 160V416c0 53 43 96 96 96H352c53 0 96-43 96-96V320c0-17.7-14.3-32-32-32s-32 14.3-32 32v96c0 17.7-14.3 32-32 32H96c-17.7 0-32-14.3-32-32V160c0-17.7 14.3-32 32-32h96c17.7 0 32-14.3 32-32s-14.3-32-32-32H96z" fill="#fff"/></svg>
<div class="t" style="top:1639.10px;font-size:21.5px;color:#8fa2ad;-webkit-text-stroke:0.5px #8fa2ad;left:136.50px;">4</div>
<div class="t" style="top:1639.10px;font-size:21.5px;color:#8fa2ad;-webkit-text-stroke:0.5px #8fa2ad;letter-spacing:0.65px;left:-55.50px;width:800px;text-align:center;text-indent:0.65px;">Harvesting</div>
<div class="t" style="top:1639.10px;font-size:21.5px;color:#8fa2ad;-webkit-text-stroke:0.5px #8fa2ad;letter-spacing:1.55px;left:320.00px;width:800px;text-align:center;text-indent:1.55px;">2023-07-10</div>
<div class="t" style="top:1639.10px;font-size:21.5px;color:#8fa2ad;-webkit-text-stroke:0.5px #8fa2ad;letter-spacing:1.55px;left:591.00px;width:800px;text-align:center;text-indent:1.55px;">2023-07-11</div>
<div class="t" style="top:1639.10px;font-size:21.5px;color:#8fa2ad;-webkit-text-stroke:0.5px #8fa2ad;left:862.60px;width:800px;text-align:center;">-</div>
<div class="t" style="top:1639.10px;font-size:21.5px;color:#8fa2ad;-webkit-text-stroke:0.5px #8fa2ad;left:1133.80px;width:800px;text-align:center;">-</div>
<div class="t" style="top:1639.10px;font-size:21.5px;color:#8fa2ad;-webkit-text-stroke:0.5px #8fa2ad;letter-spacing:0.65px;left:1574.50px;width:800px;text-align:center;text-indent:0.65px;">In 52 Days</div>
<div class="t" style="top:1639.10px;font-size:21.5px;color:#8fa2ad;-webkit-text-stroke:0.5px #8fa2ad;letter-spacing:0.65px;left:1848.30px;width:800px;text-align:center;text-indent:0.65px;">Scheduled</div>
<div class="r" style="left:2462.00px;top:1631.10px;width:210.00px;height:47.60px;background:#72b979;border-radius:8px;"></div>
<div class="r" style="left:2684.00px;top:1631.10px;width:48.00px;height:47.60px;background:#72b979;border-radius:8px;"></div>
<svg class="r" style="left:2478.10px;top:1648.40px;overflow:hidden" width="18.2" height="13.9" viewBox="0 62 512 390"><path d="M459.5 440.6c9.5 7.9 22.8 9.7 34.1 4.4s18.4-16.6 18.4-29V96c0-12.4-7.2-23.7-18.4-29s-24.5-3.6-34.1 4.4L288 214.3V256v41.7L459.5 440.6zM256 352V256 128 96c0-12.4-7.2-23.7-18.4-29s-24.5-3.6-34.1 4.4l-192 160C4.2 237.5 0 246.5 0 256s4.2 18.5 11.5 24.6l192 160c9.5 7.9 22.8 9.7 34.1 4.4s18.4-16.6 18.4-29V352z" fill="#fff"/></svg>
<div class="t" style="top:1645.22px;font-size:19px;color:#fff;-webkit-text-stroke:0.6px #fff;letter-spacing:0.5px;left:2173.20px;width:800px;text-align:center;text-indent:0.5px;">Start</div>
<svg class="r" style="left:2700.10px;top:1646.20px;" width="18" height="18" viewBox="0 0 512 512"><path d="M471.6 21.7c-21.9-21.9-57.3-21.9-79.2 0L362.3 51.7l97.9 97.9 30.1-30.1c21.9-21.9 21.9-57.3 0-79.2L471.6 21.7zm-299.2 220c-6.1 6.1-10.8 13.6-13.5 21.9l-29.6 88.8c-2.9 8.6-.6 18.1 5.8 24.6s15.9 8.7 24.6 5.8l88.8-29.6c8.2-2.7 15.7-7.4 21.9-13.5L437.7 172.3 339.7 74.3 172.4 241.7zM96 64C43 64 0 107 0 160V416c0 53 43 96 96 96H352c53 0 96-43 96-96V320c0-17.7-14.3-32-32-32s-32 14.3-32 32v96c0 17.7-14.3 32-32 32H96c-17.7 0-32-14.3-32-32V160c0-17.7 14.3-32 32-32h96c17.7 0 32-14.3 32-32s-14.3-32-32-32H96z" fill="#fff"/></svg>
</body></html>
